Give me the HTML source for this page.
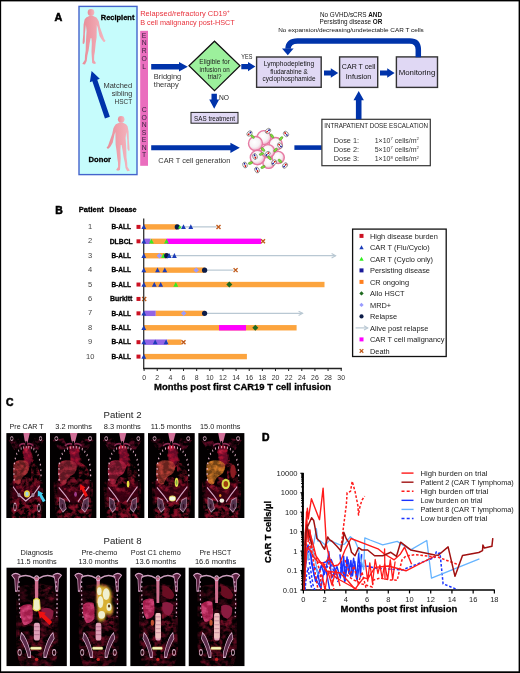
<!DOCTYPE html>
<html><head><meta charset="utf-8"><title>CAR19 T cell figure</title>
<style>html,body{margin:0;padding:0;background:#fff;}svg{display:block;}</style></head>
<body><svg width="520" height="673" viewBox="0 0 520 673" font-family="'Liberation Sans', Arial, sans-serif">
<defs>
<linearGradient id="skin" x1="0" y1="0" x2="1" y2="0"><stop offset="0" stop-color="#e88c98"/><stop offset="0.6" stop-color="#f0a6b0"/><stop offset="1" stop-color="#f4b6c0"/></linearGradient>
<radialGradient id="cellg" cx="0.42" cy="0.4" r="0.62"><stop offset="0" stop-color="#ffffff"/><stop offset="0.6" stop-color="#f6f2f4"/><stop offset="0.85" stop-color="#f2c4d6"/><stop offset="1" stop-color="#e888ac"/></radialGradient>
<filter id="blur05" x="-30%" y="-30%" width="160%" height="160%"><feGaussianBlur stdDeviation="0.7"/></filter>
<filter id="mot1" x="0" y="0" width="100%" height="100%" color-interpolation-filters="sRGB"><feTurbulence type="fractalNoise" baseFrequency="0.09 0.2" numOctaves="3" seed="1" result="n"/><feColorMatrix in="n" type="matrix" values="0 0 0 0 0  0 0 0 0 0  0 0 0 0 0  2.6 0 0 0 -0.95" result="m0"/><feGaussianBlur in="m0" stdDeviation="0.8 0.5" result="m"/><feComposite in="SourceGraphic" in2="m" operator="in"/></filter><filter id="mot2" x="0" y="0" width="100%" height="100%" color-interpolation-filters="sRGB"><feTurbulence type="fractalNoise" baseFrequency="0.09 0.2" numOctaves="3" seed="2" result="n"/><feColorMatrix in="n" type="matrix" values="0 0 0 0 0  0 0 0 0 0  0 0 0 0 0  2.6 0 0 0 -0.95" result="m0"/><feGaussianBlur in="m0" stdDeviation="0.8 0.5" result="m"/><feComposite in="SourceGraphic" in2="m" operator="in"/></filter><filter id="mot3" x="0" y="0" width="100%" height="100%" color-interpolation-filters="sRGB"><feTurbulence type="fractalNoise" baseFrequency="0.09 0.2" numOctaves="3" seed="3" result="n"/><feColorMatrix in="n" type="matrix" values="0 0 0 0 0  0 0 0 0 0  0 0 0 0 0  2.6 0 0 0 -0.95" result="m0"/><feGaussianBlur in="m0" stdDeviation="0.8 0.5" result="m"/><feComposite in="SourceGraphic" in2="m" operator="in"/></filter><filter id="mot4" x="0" y="0" width="100%" height="100%" color-interpolation-filters="sRGB"><feTurbulence type="fractalNoise" baseFrequency="0.09 0.2" numOctaves="3" seed="4" result="n"/><feColorMatrix in="n" type="matrix" values="0 0 0 0 0  0 0 0 0 0  0 0 0 0 0  2.6 0 0 0 -0.95" result="m0"/><feGaussianBlur in="m0" stdDeviation="0.8 0.5" result="m"/><feComposite in="SourceGraphic" in2="m" operator="in"/></filter><filter id="mot5" x="0" y="0" width="100%" height="100%" color-interpolation-filters="sRGB"><feTurbulence type="fractalNoise" baseFrequency="0.09 0.2" numOctaves="3" seed="5" result="n"/><feColorMatrix in="n" type="matrix" values="0 0 0 0 0  0 0 0 0 0  0 0 0 0 0  2.6 0 0 0 -0.95" result="m0"/><feGaussianBlur in="m0" stdDeviation="0.8 0.5" result="m"/><feComposite in="SourceGraphic" in2="m" operator="in"/></filter><filter id="mot6" x="0" y="0" width="100%" height="100%" color-interpolation-filters="sRGB"><feTurbulence type="fractalNoise" baseFrequency="0.09 0.2" numOctaves="3" seed="6" result="n"/><feColorMatrix in="n" type="matrix" values="0 0 0 0 0  0 0 0 0 0  0 0 0 0 0  2.6 0 0 0 -0.95" result="m0"/><feGaussianBlur in="m0" stdDeviation="0.8 0.5" result="m"/><feComposite in="SourceGraphic" in2="m" operator="in"/></filter><filter id="mot7" x="0" y="0" width="100%" height="100%" color-interpolation-filters="sRGB"><feTurbulence type="fractalNoise" baseFrequency="0.09 0.2" numOctaves="3" seed="7" result="n"/><feColorMatrix in="n" type="matrix" values="0 0 0 0 0  0 0 0 0 0  0 0 0 0 0  2.6 0 0 0 -0.95" result="m0"/><feGaussianBlur in="m0" stdDeviation="0.8 0.5" result="m"/><feComposite in="SourceGraphic" in2="m" operator="in"/></filter><filter id="mot8" x="0" y="0" width="100%" height="100%" color-interpolation-filters="sRGB"><feTurbulence type="fractalNoise" baseFrequency="0.09 0.2" numOctaves="3" seed="8" result="n"/><feColorMatrix in="n" type="matrix" values="0 0 0 0 0  0 0 0 0 0  0 0 0 0 0  2.6 0 0 0 -0.95" result="m0"/><feGaussianBlur in="m0" stdDeviation="0.8 0.5" result="m"/><feComposite in="SourceGraphic" in2="m" operator="in"/></filter><filter id="mot9" x="0" y="0" width="100%" height="100%" color-interpolation-filters="sRGB"><feTurbulence type="fractalNoise" baseFrequency="0.09 0.2" numOctaves="3" seed="9" result="n"/><feColorMatrix in="n" type="matrix" values="0 0 0 0 0  0 0 0 0 0  0 0 0 0 0  2.6 0 0 0 -0.95" result="m0"/><feGaussianBlur in="m0" stdDeviation="0.8 0.5" result="m"/><feComposite in="SourceGraphic" in2="m" operator="in"/></filter>
<filter id="blur1" x="-20%" y="-20%" width="140%" height="140%"><feGaussianBlur stdDeviation="1.6"/></filter>
<clipPath id="dclip"><rect x="303.6" y="470" width="195" height="120"/></clipPath>
</defs>
<rect x="0.00" y="0.00" width="520.00" height="673.00" fill="#fff"/>
<text x="54.4" y="20.5" font-size="10.8" font-weight="bold" fill="#000" stroke="#000" stroke-width="0.55">A</text>
<rect x="79.00" y="6.40" width="58.00" height="168.20" fill="#c6fcfc" stroke="#4464cc" stroke-width="1.4"/>
<polygon points="89.70,15.80 86.20,17.40 84.60,19.40 83.60,24.60 83.30,34.00 82.80,39.60 82.60,43.60 84.00,44.00 84.80,41.60 84.90,33.60 85.90,25.10 86.60,31.10 86.20,37.10 85.80,44.60 85.70,50.40 85.00,55.60 84.80,60.00 83.00,62.80 82.30,63.90 85.00,64.50 86.70,61.10 87.40,55.60 88.60,50.40 89.60,43.60 90.60,38.20 91.50,38.20 91.80,43.60 91.50,51.40 91.70,55.60 92.00,60.00 92.20,63.10 94.20,64.00 96.10,63.20 94.10,60.20 94.20,55.60 94.90,51.40 95.70,43.60 96.60,37.60 96.70,31.60 96.80,25.10 97.70,27.60 99.50,35.90 101.70,39.60 103.40,41.80 104.60,42.00 105.60,40.80 104.20,39.10 102.40,34.00 100.00,27.20 98.80,21.40 97.80,19.40 96.40,17.40 92.60,15.80" fill="url(#skin)"/>
<ellipse cx="91.00" cy="12.50" rx="3.30" ry="3.40" fill="url(#skin)"/>
<polygon points="122.50,122.60 126.00,124.20 127.60,126.20 128.60,131.40 128.90,140.80 129.40,146.40 129.60,150.40 128.20,150.80 127.40,148.40 127.30,140.40 126.30,131.90 125.60,137.90 126.00,143.90 126.40,151.40 126.50,157.20 127.20,162.40 127.40,166.80 129.20,169.60 129.90,170.70 127.20,171.30 125.50,167.90 124.80,162.40 123.60,157.20 122.60,150.40 121.60,145.00 120.70,145.00 120.40,150.40 120.70,158.20 120.50,162.40 120.20,166.80 120.00,169.90 118.00,170.80 116.10,170.00 118.10,167.00 118.00,162.40 117.30,158.20 116.50,150.40 115.60,144.40 115.50,138.40 115.40,131.90 114.50,134.40 112.70,142.70 110.50,146.40 108.80,148.60 107.60,148.80 106.60,147.60 108.00,145.90 109.80,140.80 112.20,134.00 113.40,128.20 114.40,126.20 115.80,124.20 119.60,122.60" fill="url(#skin)"/>
<ellipse cx="121.20" cy="119.30" rx="3.30" ry="3.40" fill="url(#skin)"/>
<text x="100.8" y="20" font-size="7.4" font-weight="bold" stroke="#000" stroke-width="0.28" fill="#000" textLength="33.6" lengthAdjust="spacingAndGlyphs">Recipient</text>
<text x="88.6" y="162" font-size="7.4" font-weight="bold" stroke="#000" stroke-width="0.28" fill="#000" textLength="22.4" lengthAdjust="spacingAndGlyphs">Donor</text>
<text x="132.2" y="87.7" font-size="7.4" text-anchor="end" fill="#333" textLength="28.8" lengthAdjust="spacingAndGlyphs">Matched</text>
<text x="132.2" y="96.05" font-size="7.4" text-anchor="end" fill="#333" textLength="20.5" lengthAdjust="spacingAndGlyphs">sibling</text>
<text x="132.2" y="104.4" font-size="7.4" text-anchor="end" fill="#333" textLength="17.6" lengthAdjust="spacingAndGlyphs">HSCT</text>
<polygon points="109.86,116.87 97.27,79.64 99.78,78.79 91.60,71.00 89.83,82.16 92.34,81.31 104.94,118.53" fill="#0033aa"/>
<text x="140.2" y="16.3" font-size="7.5" fill="#e8323c">Relapsed/refractory CD19<tspan font-size="4.5" dy="-3">+</tspan></text>
<text x="140.2" y="24.6" font-size="7.5" fill="#e8323c" textLength="94.5" lengthAdjust="spacingAndGlyphs">B cell malignancy post-HSCT</text>
<rect x="140.20" y="30.80" width="7.80" height="135.00" fill="#ea6ebe"/>
<text x="144.1" y="37.5" font-size="6.8" text-anchor="middle" fill="#3c2040">E</text>
<text x="144.1" y="45.25" font-size="6.8" text-anchor="middle" fill="#3c2040">N</text>
<text x="144.1" y="53.0" font-size="6.8" text-anchor="middle" fill="#3c2040">R</text>
<text x="144.1" y="60.75" font-size="6.8" text-anchor="middle" fill="#3c2040">O</text>
<text x="144.1" y="68.5" font-size="6.8" text-anchor="middle" fill="#3c2040">L</text>
<text x="144.1" y="112.1" font-size="6.8" text-anchor="middle" fill="#3c2040">C</text>
<text x="144.1" y="119.58" font-size="6.8" text-anchor="middle" fill="#3c2040">O</text>
<text x="144.1" y="127.06" font-size="6.8" text-anchor="middle" fill="#3c2040">N</text>
<text x="144.1" y="134.54" font-size="6.8" text-anchor="middle" fill="#3c2040">S</text>
<text x="144.1" y="142.01999999999998" font-size="6.8" text-anchor="middle" fill="#3c2040">E</text>
<text x="144.1" y="149.5" font-size="6.8" text-anchor="middle" fill="#3c2040">N</text>
<text x="144.1" y="156.98" font-size="6.8" text-anchor="middle" fill="#3c2040">T</text>
<polygon points="151.20,69.40 179.00,69.40 179.00,71.50 187.80,66.70 179.00,61.90 179.00,64.00 151.20,64.00" fill="#0033aa"/>
<text x="153.8" y="79.2" font-size="7.5" fill="#333" textLength="27.5" lengthAdjust="spacingAndGlyphs">Bridging</text>
<text x="153.8" y="87.4" font-size="7.5" fill="#333" textLength="25" lengthAdjust="spacingAndGlyphs">therapy</text>
<polygon points="189.00,65.70 214.50,41.20 240.00,65.70 214.50,90.60" fill="#9cf09c" stroke="#111" stroke-width="1.2"/>
<text x="214.6" y="64.4" font-size="6.9" text-anchor="middle" fill="#222" textLength="30.5" lengthAdjust="spacingAndGlyphs">Eligible for</text>
<text x="214.6" y="71.7" font-size="6.9" text-anchor="middle" fill="#222" textLength="30" lengthAdjust="spacingAndGlyphs">infusion on</text>
<text x="214.6" y="79.0" font-size="6.9" text-anchor="middle" fill="#222" textLength="13.8" lengthAdjust="spacingAndGlyphs">trial?</text>
<text x="241.3" y="58.8" font-size="6.4" fill="#222" textLength="11" lengthAdjust="spacingAndGlyphs">YES</text>
<polygon points="241.30,69.20 248.00,69.20 248.00,71.30 255.40,66.60 248.00,61.90 248.00,64.00 241.30,64.00" fill="#0033aa"/>
<polygon points="211.50,93.80 211.50,99.60 209.20,99.60 214.20,108.80 219.20,99.60 216.90,99.60 216.90,93.80" fill="#0033aa"/>
<text x="218.9" y="99.6" font-size="6.4" fill="#222" textLength="10" lengthAdjust="spacingAndGlyphs">NO</text>
<rect x="191.00" y="112.40" width="47.00" height="10.80" fill="#e0d8f4" stroke="#222" stroke-width="1.0"/>
<text x="214.5" y="120.6" font-size="6.6" text-anchor="middle" fill="#111" textLength="40.8" lengthAdjust="spacingAndGlyphs">SAS treatment</text>
<rect x="256.60" y="57.00" width="64.60" height="30.30" fill="#e0d8f4" stroke="#333" stroke-width="1.4"/>
<text x="289" y="66.2" font-size="6.7" text-anchor="middle" fill="#111" textLength="50.5" lengthAdjust="spacingAndGlyphs">Lymphodepleting</text>
<text x="289" y="73.8" font-size="6.7" text-anchor="middle" fill="#111" textLength="37.5" lengthAdjust="spacingAndGlyphs">fludarabine &amp;</text>
<text x="289" y="81.4" font-size="6.7" text-anchor="middle" fill="#111" textLength="53" lengthAdjust="spacingAndGlyphs">cyclophosphamide</text>
<polygon points="324.00,75.60 330.80,75.60 330.80,77.70 338.20,73.00 330.80,68.30 330.80,70.40 324.00,70.40" fill="#0033aa"/>
<rect x="339.60" y="56.90" width="38.10" height="30.50" fill="#e0d8f4" stroke="#333" stroke-width="1.4"/>
<text x="358.6" y="69.3" font-size="7.3" text-anchor="middle" fill="#111" textLength="33.5" lengthAdjust="spacingAndGlyphs">CAR T cell</text>
<text x="358.6" y="78.9" font-size="7.3" text-anchor="middle" fill="#111" textLength="25.5" lengthAdjust="spacingAndGlyphs">Infusion</text>
<polygon points="380.00,75.60 387.20,75.60 387.20,77.70 394.60,73.00 387.20,68.30 387.20,70.40 380.00,70.40" fill="#0033aa"/>
<rect x="396.40" y="56.90" width="41.10" height="30.50" fill="#e0d8f4" stroke="#333" stroke-width="1.4"/>
<text x="417" y="74.8" font-size="7.3" text-anchor="middle" fill="#111" textLength="36.6" lengthAdjust="spacingAndGlyphs">Monitoring</text>
<path d="M418.3,57.2 V49.5 Q418.3,40.9 409.7,40.9 H297.5 Q288.2,40.9 288.0,48.8" fill="none" stroke="#0033aa" stroke-width="5.5"/>
<polygon points="282.00,48.60 293.60,48.60 287.80,55.20" fill="#0033aa"/>
<text x="351" y="16.6" font-size="6.35" text-anchor="middle" fill="#111">No GVHD/sCRS <tspan font-weight="bold">AND</tspan></text>
<text x="351" y="24.2" font-size="6.35" text-anchor="middle" fill="#111">Persisting disease <tspan font-weight="bold">OR</tspan></text>
<text x="351" y="31.8" font-size="6.0" text-anchor="middle" fill="#111" textLength="145.5" lengthAdjust="spacingAndGlyphs">No expansion/decreasing/undetectable CAR T cells</text>
<polygon points="151.20,150.30 230.40,150.30 230.40,152.90 239.80,147.80 230.40,142.70 230.40,145.30 151.20,145.30" fill="#0033aa"/>
<text x="158.3" y="163" font-size="7.0" fill="#333" textLength="72" lengthAdjust="spacingAndGlyphs">CAR T cell generation</text>
<circle cx="264" cy="137.6" r="7.0" fill="url(#cellg)" stroke="#e67aa2" stroke-width="1.4"/>
<circle cx="255.5" cy="143.5" r="7.0" fill="url(#cellg)" stroke="#e67aa2" stroke-width="1.4"/>
<circle cx="275.7" cy="144" r="6.5" fill="url(#cellg)" stroke="#e67aa2" stroke-width="1.4"/>
<circle cx="268.7" cy="162.5" r="5.9" fill="url(#cellg)" stroke="#e67aa2" stroke-width="1.4"/>
<circle cx="278.2" cy="157.5" r="6.1" fill="url(#cellg)" stroke="#e67aa2" stroke-width="1.4"/>
<circle cx="257.5" cy="157.5" r="7.2" fill="url(#cellg)" stroke="#e67aa2" stroke-width="1.4"/>
<circle cx="268" cy="151.2" r="6.6" fill="url(#cellg)" stroke="#e67aa2" stroke-width="1.4"/>
<g transform="translate(252.5,136.5) rotate(-135.0)"><ellipse cx="0" cy="0" rx="2.4" ry="1.2" fill="#7ee03a" stroke="#3a7a10" stroke-width="0.4"/></g>
<g transform="translate(249.5,133.5) rotate(-45.0)"><ellipse cx="0" cy="0" rx="3.0" ry="2.2" fill="#fff" stroke="#222" stroke-width="0.45"/><ellipse cx="-1.2" cy="0" rx="1.1" ry="0.8" fill="#cc1010"/><ellipse cx="1.3" cy="0" rx="1.1" ry="0.8" fill="#1a1a9a"/></g>
<g transform="translate(272,136) rotate(-128.7)"><ellipse cx="0" cy="0" rx="2.4" ry="1.2" fill="#7ee03a" stroke="#3a7a10" stroke-width="0.4"/></g>
<g transform="translate(268,131) rotate(-38.7)"><ellipse cx="0" cy="0" rx="3.0" ry="2.2" fill="#fff" stroke="#222" stroke-width="0.45"/><ellipse cx="-1.2" cy="0" rx="1.1" ry="0.8" fill="#cc1010"/><ellipse cx="1.3" cy="0" rx="1.1" ry="0.8" fill="#1a1a9a"/></g>
<g transform="translate(281,138.5) rotate(-42.0)"><ellipse cx="0" cy="0" rx="2.4" ry="1.2" fill="#7ee03a" stroke="#3a7a10" stroke-width="0.4"/></g>
<g transform="translate(286,134) rotate(48.0)"><ellipse cx="0" cy="0" rx="3.0" ry="2.2" fill="#fff" stroke="#222" stroke-width="0.45"/><ellipse cx="-1.2" cy="0" rx="1.1" ry="0.8" fill="#cc1010"/><ellipse cx="1.3" cy="0" rx="1.1" ry="0.8" fill="#1a1a9a"/></g>
<g transform="translate(275.5,150) rotate(-45.0)"><ellipse cx="0" cy="0" rx="2.4" ry="1.2" fill="#7ee03a" stroke="#3a7a10" stroke-width="0.4"/></g>
<g transform="translate(280,145.5) rotate(45.0)"><ellipse cx="0" cy="0" rx="3.0" ry="2.2" fill="#fff" stroke="#222" stroke-width="0.45"/><ellipse cx="-1.2" cy="0" rx="1.1" ry="0.8" fill="#cc1010"/><ellipse cx="1.3" cy="0" rx="1.1" ry="0.8" fill="#1a1a9a"/></g>
<g transform="translate(263,149.5) rotate(45.0)"><ellipse cx="0" cy="0" rx="2.4" ry="1.2" fill="#7ee03a" stroke="#3a7a10" stroke-width="0.4"/></g>
<g transform="translate(267.5,154) rotate(135.0)"><ellipse cx="0" cy="0" rx="3.0" ry="2.2" fill="#fff" stroke="#222" stroke-width="0.45"/><ellipse cx="-1.2" cy="0" rx="1.1" ry="0.8" fill="#cc1010"/><ellipse cx="1.3" cy="0" rx="1.1" ry="0.8" fill="#1a1a9a"/></g>
<g transform="translate(261.5,154) rotate(159.0)"><ellipse cx="0" cy="0" rx="2.4" ry="1.2" fill="#7ee03a" stroke="#3a7a10" stroke-width="0.4"/></g>
<g transform="translate(255,156.5) rotate(249.0)"><ellipse cx="0" cy="0" rx="3.0" ry="2.2" fill="#fff" stroke="#222" stroke-width="0.45"/><ellipse cx="-1.2" cy="0" rx="1.1" ry="0.8" fill="#cc1010"/><ellipse cx="1.3" cy="0" rx="1.1" ry="0.8" fill="#1a1a9a"/></g>
<g transform="translate(250.5,163) rotate(160.0)"><ellipse cx="0" cy="0" rx="2.4" ry="1.2" fill="#7ee03a" stroke="#3a7a10" stroke-width="0.4"/></g>
<g transform="translate(245,165) rotate(250.0)"><ellipse cx="0" cy="0" rx="3.0" ry="2.2" fill="#fff" stroke="#222" stroke-width="0.45"/><ellipse cx="-1.2" cy="0" rx="1.1" ry="0.8" fill="#cc1010"/><ellipse cx="1.3" cy="0" rx="1.1" ry="0.8" fill="#1a1a9a"/></g>
<g transform="translate(263,167) rotate(153.4)"><ellipse cx="0" cy="0" rx="2.4" ry="1.2" fill="#7ee03a" stroke="#3a7a10" stroke-width="0.4"/></g>
<g transform="translate(257,170) rotate(243.4)"><ellipse cx="0" cy="0" rx="3.0" ry="2.2" fill="#fff" stroke="#222" stroke-width="0.45"/><ellipse cx="-1.2" cy="0" rx="1.1" ry="0.8" fill="#cc1010"/><ellipse cx="1.3" cy="0" rx="1.1" ry="0.8" fill="#1a1a9a"/></g>
<g transform="translate(280,161) rotate(42.0)"><ellipse cx="0" cy="0" rx="2.4" ry="1.2" fill="#7ee03a" stroke="#3a7a10" stroke-width="0.4"/></g>
<g transform="translate(285,165.5) rotate(132.0)"><ellipse cx="0" cy="0" rx="3.0" ry="2.2" fill="#fff" stroke="#222" stroke-width="0.45"/><ellipse cx="-1.2" cy="0" rx="1.1" ry="0.8" fill="#cc1010"/><ellipse cx="1.3" cy="0" rx="1.1" ry="0.8" fill="#1a1a9a"/></g>
<g transform="translate(269.5,158) rotate(45.0)"><ellipse cx="0" cy="0" rx="2.4" ry="1.2" fill="#7ee03a" stroke="#3a7a10" stroke-width="0.4"/></g>
<g transform="translate(274,162.5) rotate(135.0)"><ellipse cx="0" cy="0" rx="3.0" ry="2.2" fill="#fff" stroke="#222" stroke-width="0.45"/><ellipse cx="-1.2" cy="0" rx="1.1" ry="0.8" fill="#cc1010"/><ellipse cx="1.3" cy="0" rx="1.1" ry="0.8" fill="#1a1a9a"/></g>
<rect x="294.40" y="145.30" width="27.40" height="4.60" fill="#0033aa"/>
<rect x="321.90" y="119.30" width="108.40" height="46.40" fill="#fff" stroke="#333" stroke-width="1.2"/>
<polygon points="361.50,119.30 361.50,100.30 363.90,100.30 358.70,90.90 353.50,100.30 355.90,100.30 355.90,119.30" fill="#0033aa"/>
<text x="324.2" y="128.2" font-size="6.4" fill="#222" textLength="103.8" lengthAdjust="spacingAndGlyphs">INTRAPATIENT DOSE ESCALATION</text>
<text x="333.8" y="142.8" font-size="7.0" fill="#333" textLength="25.3" lengthAdjust="spacingAndGlyphs">Dose 1:</text>
<text x="374.7" y="142.8" font-size="7.0" fill="#333">1×10<tspan font-size="4.2" dy="-2.8">7</tspan><tspan dy="2.8"> cells/m</tspan><tspan font-size="4.2" dy="-2.8">2</tspan></text>
<text x="333.8" y="152.10000000000002" font-size="7.0" fill="#333" textLength="25.3" lengthAdjust="spacingAndGlyphs">Dose 2:</text>
<text x="374.7" y="152.10000000000002" font-size="7.0" fill="#333">5×10<tspan font-size="4.2" dy="-2.8">7</tspan><tspan dy="2.8"> cells/m</tspan><tspan font-size="4.2" dy="-2.8">2</tspan></text>
<text x="333.8" y="161.4" font-size="7.0" fill="#333" textLength="25.3" lengthAdjust="spacingAndGlyphs">Dose 3:</text>
<text x="374.7" y="161.4" font-size="7.0" fill="#333">1×10<tspan font-size="4.2" dy="-2.8">8</tspan><tspan dy="2.8"> cells/m</tspan><tspan font-size="4.2" dy="-2.8">2</tspan></text>
<text x="55.3" y="214.3" font-size="10.4" font-weight="bold" fill="#000" stroke="#000" stroke-width="0.55">B</text>
<text x="78.8" y="211.6" font-size="7.0" font-weight="bold" stroke="#000" stroke-width="0.28" fill="#000" textLength="25" lengthAdjust="spacingAndGlyphs">Patient</text>
<text x="109.2" y="211.6" font-size="7.0" font-weight="bold" stroke="#000" stroke-width="0.28" fill="#000" textLength="27.3" lengthAdjust="spacingAndGlyphs">Disease</text>
<text x="90.2" y="229.0" font-size="7.5" text-anchor="middle" fill="#444">1</text>
<text x="121.2" y="229.20000000000002" font-size="7.0" text-anchor="middle" font-weight="bold" stroke="#000" stroke-width="0.28" fill="#000" textLength="19.6" lengthAdjust="spacingAndGlyphs">B-ALL</text>
<text x="90.2" y="243.41" font-size="7.5" text-anchor="middle" fill="#444">2</text>
<text x="121.2" y="243.61" font-size="7.0" text-anchor="middle" font-weight="bold" stroke="#000" stroke-width="0.28" fill="#000" textLength="23" lengthAdjust="spacingAndGlyphs">DLBCL</text>
<text x="90.2" y="257.82" font-size="7.5" text-anchor="middle" fill="#444">3</text>
<text x="121.2" y="258.02" font-size="7.0" text-anchor="middle" font-weight="bold" stroke="#000" stroke-width="0.28" fill="#000" textLength="19.6" lengthAdjust="spacingAndGlyphs">B-ALL</text>
<text x="90.2" y="272.23" font-size="7.5" text-anchor="middle" fill="#444">4</text>
<text x="121.2" y="272.43" font-size="7.0" text-anchor="middle" font-weight="bold" stroke="#000" stroke-width="0.28" fill="#000" textLength="19.6" lengthAdjust="spacingAndGlyphs">B-ALL</text>
<text x="90.2" y="286.64000000000004" font-size="7.5" text-anchor="middle" fill="#444">5</text>
<text x="121.2" y="286.84000000000003" font-size="7.0" text-anchor="middle" font-weight="bold" stroke="#000" stroke-width="0.28" fill="#000" textLength="19.6" lengthAdjust="spacingAndGlyphs">B-ALL</text>
<text x="90.2" y="301.05" font-size="7.5" text-anchor="middle" fill="#444">6</text>
<text x="121.2" y="301.25" font-size="7.0" text-anchor="middle" font-weight="bold" stroke="#000" stroke-width="0.28" fill="#000" textLength="22.5" lengthAdjust="spacingAndGlyphs">Burkitt</text>
<text x="90.2" y="315.46000000000004" font-size="7.5" text-anchor="middle" fill="#444">7</text>
<text x="121.2" y="315.66" font-size="7.0" text-anchor="middle" font-weight="bold" stroke="#000" stroke-width="0.28" fill="#000" textLength="19.6" lengthAdjust="spacingAndGlyphs">B-ALL</text>
<text x="90.2" y="329.87" font-size="7.5" text-anchor="middle" fill="#444">8</text>
<text x="121.2" y="330.07" font-size="7.0" text-anchor="middle" font-weight="bold" stroke="#000" stroke-width="0.28" fill="#000" textLength="19.6" lengthAdjust="spacingAndGlyphs">B-ALL</text>
<text x="90.2" y="344.28000000000003" font-size="7.5" text-anchor="middle" fill="#444">9</text>
<text x="121.2" y="344.48" font-size="7.0" text-anchor="middle" font-weight="bold" stroke="#000" stroke-width="0.28" fill="#000" textLength="19.6" lengthAdjust="spacingAndGlyphs">B-ALL</text>
<text x="90.2" y="358.69000000000005" font-size="7.5" text-anchor="middle" fill="#444">10</text>
<text x="121.2" y="358.89000000000004" font-size="7.0" text-anchor="middle" font-weight="bold" stroke="#000" stroke-width="0.28" fill="#000" textLength="19.6" lengthAdjust="spacingAndGlyphs">B-ALL</text>
<rect x="136.50" y="224.90" width="4.00" height="4.00" fill="#cc1122"/>
<rect x="136.50" y="239.31" width="4.00" height="4.00" fill="#cc1122"/>
<rect x="136.50" y="282.54" width="4.00" height="4.00" fill="#cc1122"/>
<rect x="136.50" y="296.95" width="4.00" height="4.00" fill="#cc1122"/>
<rect x="136.50" y="311.36" width="4.00" height="4.00" fill="#cc1122"/>
<rect x="136.50" y="340.18" width="4.00" height="4.00" fill="#cc1122"/>
<rect x="136.50" y="354.59" width="4.00" height="4.00" fill="#cc1122"/>
<line x1="178" y1="226.9" x2="216.5" y2="226.9" stroke="#b9c8d3" stroke-width="1.2"/>
<rect x="144.00" y="224.20" width="33.30" height="5.40" fill="#fca43e"/>
<circle cx="177.3" cy="226.9" r="2.6" fill="#0c1c48"/>
<polygon points="178.00,228.52 181.60,228.52 179.80,224.92" fill="#33ee22"/>
<polygon points="181.10,229.06 185.90,229.06 183.50,224.26" fill="#1c3db8"/>
<polygon points="188.40,229.06 193.20,229.06 190.80,224.26" fill="#1c3db8"/>
<path d="M216.5,224.9L220.5,228.9M216.5,228.9L220.5,224.9" stroke="#c05a1a" stroke-width="1.4"/>
<rect x="144.00" y="238.61" width="6.60" height="5.40" fill="#9265e6"/>
<rect x="150.60" y="238.61" width="15.80" height="5.40" fill="#fca43e"/>
<rect x="166.40" y="238.61" width="94.60" height="5.40" fill="#ff00ff"/>
<polygon points="149.00,243.47 153.80,243.47 151.40,238.67" fill="#33ee22"/>
<polygon points="164.10,243.47 168.90,243.47 166.50,238.67" fill="#33ee22"/>
<path d="M261.0,239.31L265.0,243.31M261.0,243.31L265.0,239.31" stroke="#c05a1a" stroke-width="1.4"/>
<line x1="166" y1="255.72" x2="335.6" y2="255.72" stroke="#b9c8d3" stroke-width="1.2"/>
<path d="M331.6,253.52L335.6,255.72L331.6,257.92" fill="none" stroke="#b9c8d3" stroke-width="1.1"/>
<rect x="144.00" y="253.02" width="22.00" height="5.40" fill="#fca43e"/>
<polygon points="156.60,255.72 159.30,253.02 162.00,255.72 159.30,258.42" fill="#9a9cff"/>
<polygon points="161.20,257.88 166.00,257.88 163.60,253.08" fill="#33ee22"/>
<circle cx="166.7" cy="255.72" r="2.6" fill="#0c1c48"/>
<polygon points="166.80,257.88 171.60,257.88 169.20,253.08" fill="#1c3db8"/>
<polygon points="172.00,257.88 176.80,257.88 174.40,253.08" fill="#1c3db8"/>
<line x1="204" y1="270.13" x2="233.5" y2="270.13" stroke="#b9c8d3" stroke-width="1.2"/>
<rect x="144.00" y="267.43" width="60.60" height="5.40" fill="#fca43e"/>
<polygon points="155.10,272.29 159.90,272.29 157.50,267.49" fill="#1c3db8"/>
<polygon points="162.40,272.29 167.20,272.29 164.80,267.49" fill="#1c3db8"/>
<polygon points="193.50,270.13 196.20,267.43 198.90,270.13 196.20,272.83" fill="#9a9cff"/>
<circle cx="204.6" cy="270.13" r="2.6" fill="#0c1c48"/>
<path d="M233.6,268.13L237.6,272.13M233.6,272.13L237.6,268.13" stroke="#c05a1a" stroke-width="1.4"/>
<rect x="144.00" y="281.84" width="180.50" height="5.40" fill="#fca43e"/>
<polygon points="151.90,286.70 156.70,286.70 154.30,281.90" fill="#1c3db8"/>
<polygon points="158.30,286.70 163.10,286.70 160.70,281.90" fill="#1c3db8"/>
<polygon points="173.40,286.70 178.20,286.70 175.80,281.90" fill="#33ee22"/>
<polygon points="226.30,284.54 229.30,281.54 232.30,284.54 229.30,287.54" fill="#1f6a1f"/>
<path d="M142.2,296.95L146.2,300.95M142.2,300.95L146.2,296.95" stroke="#c05a1a" stroke-width="1.4"/>
<line x1="204" y1="313.36" x2="302.6" y2="313.36" stroke="#b9c8d3" stroke-width="1.2"/>
<path d="M298.6,311.16L302.6,313.36L298.6,315.56" fill="none" stroke="#b9c8d3" stroke-width="1.1"/>
<rect x="144.00" y="310.66" width="11.80" height="5.40" fill="#9265e6"/>
<rect x="155.80" y="310.66" width="48.80" height="5.40" fill="#fca43e"/>
<polygon points="181.00,313.36 183.70,310.66 186.40,313.36 183.70,316.06" fill="#9a9cff"/>
<circle cx="204.6" cy="313.36" r="2.6" fill="#0c1c48"/>
<rect x="144.00" y="325.07" width="152.60" height="5.40" fill="#fca43e"/>
<rect x="219.00" y="325.07" width="27.00" height="5.40" fill="#ff00ff"/>
<polygon points="252.30,327.77 255.30,324.77 258.30,327.77 255.30,330.77" fill="#1f6a1f"/>
<rect x="144.00" y="339.48" width="23.30" height="5.40" fill="#9265e6"/>
<rect x="167.30" y="339.48" width="14.10" height="5.40" fill="#fca43e"/>
<polygon points="152.80,344.34 157.60,344.34 155.20,339.54" fill="#1c3db8"/>
<polygon points="163.70,344.34 168.50,344.34 166.10,339.54" fill="#1c3db8"/>
<path d="M181.5,340.18L185.5,344.18M181.5,344.18L185.5,340.18" stroke="#c05a1a" stroke-width="1.4"/>
<rect x="144.00" y="353.89" width="102.90" height="5.40" fill="#fca43e"/>
<line x1="143.7" y1="218.6" x2="143.7" y2="369" stroke="#333" stroke-width="1.3"/>
<polygon points="141.40,229.06 146.20,229.06 143.80,224.26" fill="#1c3db8"/>
<polygon points="141.40,243.47 146.20,243.47 143.80,238.67" fill="#1c3db8"/>
<polygon points="141.40,257.88 146.20,257.88 143.80,253.08" fill="#1c3db8"/>
<polygon points="141.40,272.29 146.20,272.29 143.80,267.49" fill="#1c3db8"/>
<polygon points="141.40,286.70 146.20,286.70 143.80,281.90" fill="#1c3db8"/>
<polygon points="141.40,315.52 146.20,315.52 143.80,310.72" fill="#1c3db8"/>
<polygon points="141.40,329.93 146.20,329.93 143.80,325.13" fill="#1c3db8"/>
<polygon points="141.40,344.34 146.20,344.34 143.80,339.54" fill="#1c3db8"/>
<polygon points="141.40,358.75 146.20,358.75 143.80,353.95" fill="#1c3db8"/>
<line x1="143.0" y1="368.5" x2="341.9" y2="368.5" stroke="#222" stroke-width="1.4"/>
<line x1="144.10" y1="368.5" x2="144.10" y2="371" stroke="#222" stroke-width="1"/>
<text x="144.1" y="379.6" font-size="6.9" text-anchor="middle" fill="#333">0</text>
<line x1="157.24" y1="368.5" x2="157.24" y2="371" stroke="#222" stroke-width="1"/>
<text x="157.24" y="379.6" font-size="6.9" text-anchor="middle" fill="#333">2</text>
<line x1="170.38" y1="368.5" x2="170.38" y2="371" stroke="#222" stroke-width="1"/>
<text x="170.38" y="379.6" font-size="6.9" text-anchor="middle" fill="#333">4</text>
<line x1="183.52" y1="368.5" x2="183.52" y2="371" stroke="#222" stroke-width="1"/>
<text x="183.52" y="379.6" font-size="6.9" text-anchor="middle" fill="#333">6</text>
<line x1="196.66" y1="368.5" x2="196.66" y2="371" stroke="#222" stroke-width="1"/>
<text x="196.66" y="379.6" font-size="6.9" text-anchor="middle" fill="#333">8</text>
<line x1="209.80" y1="368.5" x2="209.80" y2="371" stroke="#222" stroke-width="1"/>
<text x="209.8" y="379.6" font-size="6.9" text-anchor="middle" fill="#333">10</text>
<line x1="222.94" y1="368.5" x2="222.94" y2="371" stroke="#222" stroke-width="1"/>
<text x="222.94" y="379.6" font-size="6.9" text-anchor="middle" fill="#333">12</text>
<line x1="236.08" y1="368.5" x2="236.08" y2="371" stroke="#222" stroke-width="1"/>
<text x="236.08" y="379.6" font-size="6.9" text-anchor="middle" fill="#333">14</text>
<line x1="249.22" y1="368.5" x2="249.22" y2="371" stroke="#222" stroke-width="1"/>
<text x="249.22" y="379.6" font-size="6.9" text-anchor="middle" fill="#333">16</text>
<line x1="262.36" y1="368.5" x2="262.36" y2="371" stroke="#222" stroke-width="1"/>
<text x="262.36" y="379.6" font-size="6.9" text-anchor="middle" fill="#333">18</text>
<line x1="275.50" y1="368.5" x2="275.50" y2="371" stroke="#222" stroke-width="1"/>
<text x="275.5" y="379.6" font-size="6.9" text-anchor="middle" fill="#333">20</text>
<line x1="288.64" y1="368.5" x2="288.64" y2="371" stroke="#222" stroke-width="1"/>
<text x="288.64" y="379.6" font-size="6.9" text-anchor="middle" fill="#333">22</text>
<line x1="301.78" y1="368.5" x2="301.78" y2="371" stroke="#222" stroke-width="1"/>
<text x="301.78" y="379.6" font-size="6.9" text-anchor="middle" fill="#333">24</text>
<line x1="314.92" y1="368.5" x2="314.92" y2="371" stroke="#222" stroke-width="1"/>
<text x="314.92" y="379.6" font-size="6.9" text-anchor="middle" fill="#333">26</text>
<line x1="328.06" y1="368.5" x2="328.06" y2="371" stroke="#222" stroke-width="1"/>
<text x="328.06" y="379.6" font-size="6.9" text-anchor="middle" fill="#333">28</text>
<line x1="341.20" y1="368.5" x2="341.20" y2="371" stroke="#222" stroke-width="1"/>
<text x="341.2" y="379.6" font-size="6.9" text-anchor="middle" fill="#333">30</text>
<text x="154" y="389.8" font-size="9.0" font-weight="bold" stroke="#000" stroke-width="0.28" fill="#000" textLength="177" lengthAdjust="spacingAndGlyphs">Months post first CAR19 T cell infusion</text>
<rect x="352.60" y="229.10" width="93.60" height="127.40" fill="#fff" stroke="#111" stroke-width="1.3"/>
<rect x="359.50" y="233.90" width="4.00" height="4.00" fill="#cc1122"/>
<text x="370" y="238.5" font-size="7.4" fill="#222">High disease burden</text>
<polygon points="359.30,249.20 363.70,249.20 361.50,245.20" fill="#1c3db8"/>
<text x="370" y="250.0" font-size="7.4" fill="#222">CAR T (Flu/Cyclo)</text>
<polygon points="359.30,260.70 363.70,260.70 361.50,256.70" fill="#33ee22"/>
<text x="370" y="261.5" font-size="7.4" fill="#222">CAR T (Cyclo only)</text>
<rect x="359.50" y="268.40" width="4.00" height="4.00" fill="#1a1a99"/>
<text x="370" y="273.0" font-size="7.4" fill="#222">Persisting disease</text>
<rect x="359.50" y="279.90" width="4.00" height="4.00" fill="#ff7f1e"/>
<text x="370" y="284.5" font-size="7.4" fill="#222">CR ongoing</text>
<polygon points="359.30,293.40 361.50,291.20 363.70,293.40 361.50,295.60" fill="#1f6a1f"/>
<text x="370" y="296.0" font-size="7.4" fill="#222">Allo HSCT</text>
<polygon points="359.30,304.90 361.50,302.70 363.70,304.90 361.50,307.10" fill="#9a9cff"/>
<text x="370" y="307.5" font-size="7.4" fill="#222">MRD+</text>
<circle cx="361.5" cy="316.4" r="2.1" fill="#0c1c48"/>
<text x="370" y="319.0" font-size="7.4" fill="#222">Relapse</text>
<line x1="355.6" y1="327.9" x2="367.6" y2="327.9" stroke="#b9c8d3" stroke-width="1.2"/><path d="M364,325.7L367.8,327.9L364,330.09999999999997" fill="none" stroke="#b9c8d3" stroke-width="1.1"/>
<text x="370" y="330.5" font-size="7.4" fill="#222">Alive post relapse</text>
<rect x="359.50" y="337.40" width="4.00" height="4.00" fill="#ff00ff"/>
<text x="370" y="342.0" font-size="7.4" fill="#222">CAR T cell malignancy</text>
<path d="M359.7,349.09999999999997L363.3,352.7M359.7,352.7L363.3,349.09999999999997" stroke="#c05a1a" stroke-width="1.3"/>
<text x="370" y="353.5" font-size="7.4" fill="#222">Death</text>
<text x="6.0" y="406.2" font-size="10.4" font-weight="bold" fill="#000" stroke="#000" stroke-width="0.55">C</text>
<text x="103.5" y="417.6" font-size="9.0" fill="#222" textLength="38" lengthAdjust="spacingAndGlyphs">Patient 2</text>
<text x="26.6" y="429.4" font-size="7.6" text-anchor="middle" fill="#222" textLength="34" lengthAdjust="spacingAndGlyphs">Pre CAR T</text>
<text x="73.6" y="429.4" font-size="7.6" text-anchor="middle" fill="#222" textLength="36.5" lengthAdjust="spacingAndGlyphs">3.2 months</text>
<text x="122.3" y="429.4" font-size="7.6" text-anchor="middle" fill="#222" textLength="37" lengthAdjust="spacingAndGlyphs">8.3 months</text>
<text x="171.1" y="429.4" font-size="7.6" text-anchor="middle" fill="#222" textLength="40.8" lengthAdjust="spacingAndGlyphs">11.5 months</text>
<text x="220.2" y="429.4" font-size="7.6" text-anchor="middle" fill="#222" textLength="40.4" lengthAdjust="spacingAndGlyphs">15.0 months</text>
<svg x="6.2" y="433.1" width="39.95" height="84.89999999999998" viewBox="0 0 100 100" preserveAspectRatio="none">
<rect width="100" height="100" fill="#030001"/>
<g filter="url(#mot1)"><path d="M8,58 Q8,80 14,100 L88,100 Q94,80 92,58 Q70,52 50,54 Q30,52 8,58Z" fill="#4a0818"/><path d="M6,8 L30,6 L40,18 L20,20Z M94,8 L70,6 L60,18 L80,20Z" fill="#5a0a24"/></g>
<path d="M42,17 Q50,13 60,17 L65,31 Q60,40 50,40 L44,30Z" fill="#801030" opacity="0.8" filter="url(#blur1)"/>
<path d="M16,56 Q30,62 50,64 Q70,60 86,56 L86,80 Q70,76 50,84 Q30,76 16,80Z" fill="#4a0614" opacity="0.7" filter="url(#blur1)"/>
<g filter="url(#mot1)"><path d="M40,16 Q50,12 62,16 L68,32 Q62,42 50,42 L42,30Z" fill="#a81030"/><path d="M44,14 L56,14 L54,24 L46,24Z" fill="#c02040"/></g>
<g filter="url(#mot1)"><path d="M18,48 Q32,58 48,62 L46,70 Q28,68 18,60Z" fill="#9a1630"/><path d="M62,34 Q82,36 86,52 L84,66 Q70,64 62,54Z" fill="#8a1228"/><path d="M40,52 Q56,50 70,58 L66,72 Q50,70 40,64Z" fill="#7a1026"/></g>
<g filter="url(#mot1)"><path d="M14,76 Q30,74 50,82 Q70,74 88,76 L86,100 L16,100Z" fill="#8a1028"/></g>
<path d="M43,0 L59,0 L55,8 L52,13 L49,13 L46,8Z" fill="#d07098" filter="url(#blur05)"/>
<path d="M32,15 Q40,11 48,13 M52,13 Q60,11 68,15" fill="none" stroke="#8a2a52" stroke-width="2" filter="url(#blur05)"/>
<ellipse cx="50" cy="12" rx="2.2" ry="3" fill="#050002"/>
<path d="M18,36 Q30,30 48,33 Q58,35 58,40 Q56,48 46,50 Q38,52 34,60 Q26,62 20,56 Q16,46 18,36Z" fill="#a83036" opacity="0.55" filter="url(#blur05)"/>
<g filter="url(#mot1)"><path d="M18,36 Q30,30 48,33 Q58,35 58,40 Q56,48 46,50 Q38,52 34,60 Q26,62 20,56 Q16,46 18,36Z" fill="#a83036"/></g>
<path d="M20,56 Q16,24 38,18 Q52,15 66,18 Q89,24 87,56" fill="none" stroke="#e4b0c8" stroke-width="2.8" stroke-dasharray="1.8 4.6"/>
<ellipse cx="14" cy="6.5" rx="3.4" ry="2.2" fill="none" stroke="#d8a8c0" stroke-width="1.3"/>
<ellipse cx="86" cy="6.5" rx="3.4" ry="2.2" fill="none" stroke="#d8a8c0" stroke-width="1.3"/>
<path d="M17,63 L32,73 L49,80 L67,73 L84,62" fill="none" stroke="#d8a8c8" stroke-width="1.8" stroke-linejoin="round"/>
<ellipse cx="32" cy="73" rx="4" ry="2.5" fill="#a08098" filter="url(#blur05)"/><ellipse cx="67" cy="73" rx="4" ry="2.5" fill="#a08098" filter="url(#blur05)"/>
<ellipse cx="22" cy="87" rx="3.2" ry="4.4" fill="none" stroke="#d0a0bc" stroke-width="1.5"/>
<ellipse cx="82" cy="88" rx="3.2" ry="4.4" fill="none" stroke="#d0a0bc" stroke-width="1.5"/>
<ellipse cx="52" cy="71.6" rx="7.5" ry="4.2" fill="#e8d040" filter="url(#blur05)"/>
<ellipse cx="52" cy="71.6" rx="4" ry="2.4" fill="#a0d8e8" filter="url(#blur05)"/>
</svg>
<polygon points="45.50,500.75 41.80,494.35 43.27,493.50 37.90,490.60 37.73,496.70 39.20,495.85 42.90,502.25" fill="#44ccee"/>
<svg x="49.85" y="433.1" width="46.75" height="84.89999999999998" viewBox="0 0 100 100" preserveAspectRatio="none">
<rect width="100" height="100" fill="#030001"/>
<g filter="url(#mot2)"><path d="M8,58 Q8,80 14,100 L88,100 Q94,80 92,58 Q70,52 50,54 Q30,52 8,58Z" fill="#4a0818"/><path d="M6,8 L30,6 L40,18 L20,20Z M94,8 L70,6 L60,18 L80,20Z" fill="#5a0a24"/></g>
<path d="M42,17 Q50,13 60,17 L65,31 Q60,40 50,40 L44,30Z" fill="#801030" opacity="0.8" filter="url(#blur1)"/>
<path d="M16,56 Q30,62 50,64 Q70,60 86,56 L86,80 Q70,76 50,84 Q30,76 16,80Z" fill="#4a0614" opacity="0.7" filter="url(#blur1)"/>
<g filter="url(#mot2)"><path d="M40,16 Q50,12 62,16 L68,32 Q62,42 50,42 L42,30Z" fill="#a81030"/><path d="M44,14 L56,14 L54,24 L46,24Z" fill="#c02040"/></g>
<g filter="url(#mot2)"><path d="M18,48 Q32,58 48,62 L46,70 Q28,68 18,60Z" fill="#9a1630"/><path d="M62,34 Q82,36 86,52 L84,66 Q70,64 62,54Z" fill="#8a1228"/><path d="M40,52 Q56,50 70,58 L66,72 Q50,70 40,64Z" fill="#7a1026"/></g>
<g filter="url(#mot2)"><path d="M14,76 Q30,74 50,82 Q70,74 88,76 L86,100 L16,100Z" fill="#8a1028"/></g>
<path d="M43,0 L59,0 L55,8 L52,13 L49,13 L46,8Z" fill="#d07098" filter="url(#blur05)"/>
<path d="M32,15 Q40,11 48,13 M52,13 Q60,11 68,15" fill="none" stroke="#8a2a52" stroke-width="2" filter="url(#blur05)"/>
<ellipse cx="50" cy="12" rx="2.2" ry="3" fill="#050002"/>
<path d="M18,36 Q30,30 48,33 Q58,35 58,40 Q56,48 46,50 Q38,52 34,60 Q26,62 20,56 Q16,46 18,36Z" fill="#a82a3c" opacity="0.55" filter="url(#blur05)"/>
<g filter="url(#mot2)"><path d="M18,36 Q30,30 48,33 Q58,35 58,40 Q56,48 46,50 Q38,52 34,60 Q26,62 20,56 Q16,46 18,36Z" fill="#a82a3c"/></g>
<path d="M20,56 Q16,24 38,18 Q52,15 66,18 Q89,24 87,56" fill="none" stroke="#e4b0c8" stroke-width="2.8" stroke-dasharray="1.8 4.6"/>
<ellipse cx="14" cy="6.5" rx="3.4" ry="2.2" fill="none" stroke="#d8a8c0" stroke-width="1.3"/>
<ellipse cx="86" cy="6.5" rx="3.4" ry="2.2" fill="none" stroke="#d8a8c0" stroke-width="1.3"/>
<path d="M19,64 L34,74 L43,81 M84,63 L70,73 L60,81" fill="none" stroke="#d8a8c8" stroke-width="1.7" stroke-linejoin="round"/>
<path d="M21,76 L31,79 L35,89 L28,93 L21,87Z M82,76 L72,79 L68,89 L75,93 L82,87Z" fill="#5a3a58" stroke="#d8b4cc" stroke-width="1.2" opacity="0.85"/>
<ellipse cx="27" cy="86" rx="1.8" ry="2.6" fill="#2a0818"/><ellipse cx="76" cy="86" rx="1.8" ry="2.6" fill="#2a0818"/>
<ellipse cx="55" cy="72" rx="3" ry="3" fill="#a03a8a" filter="url(#blur05)"/>
</svg>
<polygon points="87.93,495.50 84.06,488.19 85.56,487.40 80.30,484.30 79.90,490.39 81.41,489.60 85.27,496.90" fill="#ee1111"/>
<svg x="100.0" y="433.1" width="44.6" height="84.89999999999998" viewBox="0 0 100 100" preserveAspectRatio="none">
<rect width="100" height="100" fill="#030001"/>
<g filter="url(#mot3)"><path d="M8,58 Q8,80 14,100 L88,100 Q94,80 92,58 Q70,52 50,54 Q30,52 8,58Z" fill="#4a0818"/><path d="M6,8 L30,6 L40,18 L20,20Z M94,8 L70,6 L60,18 L80,20Z" fill="#5a0a24"/></g>
<path d="M42,17 Q50,13 60,17 L65,31 Q60,40 50,40 L44,30Z" fill="#801030" opacity="0.8" filter="url(#blur1)"/>
<path d="M16,56 Q30,62 50,64 Q70,60 86,56 L86,80 Q70,76 50,84 Q30,76 16,80Z" fill="#4a0614" opacity="0.7" filter="url(#blur1)"/>
<g filter="url(#mot3)"><path d="M40,16 Q50,12 62,16 L68,32 Q62,42 50,42 L42,30Z" fill="#a81030"/><path d="M44,14 L56,14 L54,24 L46,24Z" fill="#c02040"/></g>
<g filter="url(#mot3)"><path d="M18,48 Q32,58 48,62 L46,70 Q28,68 18,60Z" fill="#9a1630"/><path d="M62,34 Q82,36 86,52 L84,66 Q70,64 62,54Z" fill="#8a1228"/><path d="M40,52 Q56,50 70,58 L66,72 Q50,70 40,64Z" fill="#7a1026"/></g>
<g filter="url(#mot3)"><path d="M14,76 Q30,74 50,82 Q70,74 88,76 L86,100 L16,100Z" fill="#8a1028"/></g>
<path d="M43,0 L59,0 L55,8 L52,13 L49,13 L46,8Z" fill="#d07098" filter="url(#blur05)"/>
<path d="M32,15 Q40,11 48,13 M52,13 Q60,11 68,15" fill="none" stroke="#8a2a52" stroke-width="2" filter="url(#blur05)"/>
<ellipse cx="50" cy="12" rx="2.2" ry="3" fill="#050002"/>
<path d="M18,36 Q30,30 48,33 Q58,35 58,40 Q56,48 46,50 Q38,52 34,60 Q26,62 20,56 Q16,46 18,36Z" fill="#aa2240" opacity="0.55" filter="url(#blur05)"/>
<g filter="url(#mot3)"><path d="M18,36 Q30,30 48,33 Q58,35 58,40 Q56,48 46,50 Q38,52 34,60 Q26,62 20,56 Q16,46 18,36Z" fill="#aa2240"/></g>
<path d="M20,56 Q16,24 38,18 Q52,15 66,18 Q89,24 87,56" fill="none" stroke="#e4b0c8" stroke-width="2.8" stroke-dasharray="1.8 4.6"/>
<ellipse cx="14" cy="6.5" rx="3.4" ry="2.2" fill="none" stroke="#d8a8c0" stroke-width="1.3"/>
<ellipse cx="86" cy="6.5" rx="3.4" ry="2.2" fill="none" stroke="#d8a8c0" stroke-width="1.3"/>
<path d="M19,64 L34,74 L43,81 M84,63 L70,73 L60,81" fill="none" stroke="#d8a8c8" stroke-width="1.7" stroke-linejoin="round"/>
<path d="M21,76 L31,79 L35,89 L28,93 L21,87Z M82,76 L72,79 L68,89 L75,93 L82,87Z" fill="#5a3a58" stroke="#d8b4cc" stroke-width="1.2" opacity="0.85"/>
<ellipse cx="27" cy="86" rx="1.8" ry="2.6" fill="#2a0818"/><ellipse cx="76" cy="86" rx="1.8" ry="2.6" fill="#2a0818"/>
<ellipse cx="63" cy="60" rx="3" ry="4" fill="#e8e040" filter="url(#blur05)"/>
</svg>
<svg x="148.0" y="433.1" width="46.85" height="84.89999999999998" viewBox="0 0 100 100" preserveAspectRatio="none">
<rect width="100" height="100" fill="#030001"/>
<g filter="url(#mot4)"><path d="M8,58 Q8,80 14,100 L88,100 Q94,80 92,58 Q70,52 50,54 Q30,52 8,58Z" fill="#4a0818"/><path d="M6,8 L30,6 L40,18 L20,20Z M94,8 L70,6 L60,18 L80,20Z" fill="#5a0a24"/></g>
<path d="M42,17 Q50,13 60,17 L65,31 Q60,40 50,40 L44,30Z" fill="#801030" opacity="0.8" filter="url(#blur1)"/>
<path d="M16,56 Q30,62 50,64 Q70,60 86,56 L86,80 Q70,76 50,84 Q30,76 16,80Z" fill="#4a0614" opacity="0.7" filter="url(#blur1)"/>
<g filter="url(#mot4)"><path d="M40,16 Q50,12 62,16 L68,32 Q62,42 50,42 L42,30Z" fill="#a81030"/><path d="M44,14 L56,14 L54,24 L46,24Z" fill="#c02040"/></g>
<g filter="url(#mot4)"><path d="M18,48 Q32,58 48,62 L46,70 Q28,68 18,60Z" fill="#9a1630"/><path d="M62,34 Q82,36 86,52 L84,66 Q70,64 62,54Z" fill="#8a1228"/><path d="M40,52 Q56,50 70,58 L66,72 Q50,70 40,64Z" fill="#7a1026"/></g>
<g filter="url(#mot4)"><path d="M14,76 Q30,74 50,82 Q70,74 88,76 L86,100 L16,100Z" fill="#8a1028"/></g>
<path d="M43,0 L59,0 L55,8 L52,13 L49,13 L46,8Z" fill="#d07098" filter="url(#blur05)"/>
<path d="M32,15 Q40,11 48,13 M52,13 Q60,11 68,15" fill="none" stroke="#8a2a52" stroke-width="2" filter="url(#blur05)"/>
<ellipse cx="50" cy="12" rx="2.2" ry="3" fill="#050002"/>
<path d="M18,36 Q30,30 48,33 Q58,35 58,40 Q56,48 46,50 Q38,52 34,60 Q26,62 20,56 Q16,46 18,36Z" fill="#b84036" opacity="0.55" filter="url(#blur05)"/>
<g filter="url(#mot4)"><path d="M18,36 Q30,30 48,33 Q58,35 58,40 Q56,48 46,50 Q38,52 34,60 Q26,62 20,56 Q16,46 18,36Z" fill="#b84036"/></g>
<path d="M20,56 Q16,24 38,18 Q52,15 66,18 Q89,24 87,56" fill="none" stroke="#e4b0c8" stroke-width="2.8" stroke-dasharray="1.8 4.6"/>
<ellipse cx="14" cy="6.5" rx="3.4" ry="2.2" fill="none" stroke="#d8a8c0" stroke-width="1.3"/>
<ellipse cx="86" cy="6.5" rx="3.4" ry="2.2" fill="none" stroke="#d8a8c0" stroke-width="1.3"/>
<path d="M19,64 L34,74 L43,81 M84,63 L70,73 L60,81" fill="none" stroke="#d8a8c8" stroke-width="1.7" stroke-linejoin="round"/>
<path d="M21,76 L31,79 L35,89 L28,93 L21,87Z M82,76 L72,79 L68,89 L75,93 L82,87Z" fill="#5a3a58" stroke="#d8b4cc" stroke-width="1.2" opacity="0.85"/>
<ellipse cx="27" cy="86" rx="1.8" ry="2.6" fill="#2a0818"/><ellipse cx="76" cy="86" rx="1.8" ry="2.6" fill="#2a0818"/>
<ellipse cx="61" cy="58" rx="4" ry="5.5" fill="#e8e050" filter="url(#blur05)"/>
<ellipse cx="61" cy="58" rx="2" ry="3" fill="#80b040" filter="url(#blur05)"/>
<ellipse cx="52" cy="77" rx="7" ry="3" fill="#f0f4e0" stroke="#e8d860" stroke-width="1.2"/>
</svg>
<svg x="198.2" y="433.1" width="46.4" height="84.89999999999998" viewBox="0 0 100 100" preserveAspectRatio="none">
<rect width="100" height="100" fill="#030001"/>
<g filter="url(#mot5)"><path d="M8,58 Q8,80 14,100 L88,100 Q94,80 92,58 Q70,52 50,54 Q30,52 8,58Z" fill="#4a0818"/><path d="M6,8 L30,6 L40,18 L20,20Z M94,8 L70,6 L60,18 L80,20Z" fill="#5a0a24"/></g>
<path d="M42,17 Q50,13 60,17 L65,31 Q60,40 50,40 L44,30Z" fill="#801030" opacity="0.8" filter="url(#blur1)"/>
<path d="M16,56 Q30,62 50,64 Q70,60 86,56 L86,80 Q70,76 50,84 Q30,76 16,80Z" fill="#4a0614" opacity="0.7" filter="url(#blur1)"/>
<g filter="url(#mot5)"><path d="M40,16 Q50,12 62,16 L68,32 Q62,42 50,42 L42,30Z" fill="#a81030"/><path d="M44,14 L56,14 L54,24 L46,24Z" fill="#c02040"/></g>
<g filter="url(#mot5)"><path d="M18,48 Q32,58 48,62 L46,70 Q28,68 18,60Z" fill="#9a1630"/><path d="M62,34 Q82,36 86,52 L84,66 Q70,64 62,54Z" fill="#8a1228"/><path d="M40,52 Q56,50 70,58 L66,72 Q50,70 40,64Z" fill="#7a1026"/></g>
<g filter="url(#mot5)"><path d="M14,76 Q30,74 50,82 Q70,74 88,76 L86,100 L16,100Z" fill="#8a1028"/></g>
<path d="M43,0 L59,0 L55,8 L52,13 L49,13 L46,8Z" fill="#d07098" filter="url(#blur05)"/>
<path d="M32,15 Q40,11 48,13 M52,13 Q60,11 68,15" fill="none" stroke="#8a2a52" stroke-width="2" filter="url(#blur05)"/>
<ellipse cx="50" cy="12" rx="2.2" ry="3" fill="#050002"/>
<path d="M18,36 Q30,30 48,33 Q58,35 58,40 Q56,48 46,50 Q38,52 34,60 Q26,62 20,56 Q16,46 18,36Z" fill="#d07a28" opacity="0.55" filter="url(#blur05)"/>
<g filter="url(#mot5)"><path d="M18,36 Q30,30 48,33 Q58,35 58,40 Q56,48 46,50 Q38,52 34,60 Q26,62 20,56 Q16,46 18,36Z" fill="#d07a28"/></g>
<path d="M20,56 Q16,24 38,18 Q52,15 66,18 Q89,24 87,56" fill="none" stroke="#e4b0c8" stroke-width="2.8" stroke-dasharray="1.8 4.6"/>
<ellipse cx="14" cy="6.5" rx="3.4" ry="2.2" fill="none" stroke="#d8a8c0" stroke-width="1.3"/>
<ellipse cx="86" cy="6.5" rx="3.4" ry="2.2" fill="none" stroke="#d8a8c0" stroke-width="1.3"/>
<path d="M19,64 L34,74 L43,81 M84,63 L70,73 L60,81" fill="none" stroke="#d8a8c8" stroke-width="1.7" stroke-linejoin="round"/>
<path d="M21,76 L31,79 L35,89 L28,93 L21,87Z M82,76 L72,79 L68,89 L75,93 L82,87Z" fill="#5a3a58" stroke="#d8b4cc" stroke-width="1.2" opacity="0.85"/>
<ellipse cx="27" cy="86" rx="1.8" ry="2.6" fill="#2a0818"/><ellipse cx="76" cy="86" rx="1.8" ry="2.6" fill="#2a0818"/>
<ellipse cx="59.5" cy="60" rx="9" ry="6.2" fill="#d8e048" filter="url(#blur05)"/>
<ellipse cx="59.5" cy="60" rx="5" ry="3.6" fill="#a04010" filter="url(#blur05)"/>
<ellipse cx="51" cy="79.5" rx="5" ry="2.6" fill="#f0f0e0" filter="url(#blur05)"/>
<ellipse cx="47.5" cy="73.5" rx="2.6" ry="1.8" fill="#e08020" filter="url(#blur05)"/>
<ellipse cx="75" cy="45" rx="6" ry="8" fill="#8a1a20" filter="url(#blur05)"/>
</svg>
<text x="103.5" y="543.8" font-size="9.0" fill="#222" textLength="38" lengthAdjust="spacingAndGlyphs">Patient 8</text>
<text x="36.8" y="555.2" font-size="7.6" text-anchor="middle" fill="#222" textLength="32.5" lengthAdjust="spacingAndGlyphs">Diagnosis</text>
<text x="36.8" y="563.9" font-size="7.6" text-anchor="middle" fill="#222" textLength="40" lengthAdjust="spacingAndGlyphs">11.5 months</text>
<text x="99.4" y="555.2" font-size="7.6" text-anchor="middle" fill="#222" textLength="36" lengthAdjust="spacingAndGlyphs">Pre-chemo</text>
<text x="98.5" y="563.9" font-size="7.6" text-anchor="middle" fill="#222" textLength="40" lengthAdjust="spacingAndGlyphs">13.0 months</text>
<text x="155.8" y="555.2" font-size="7.6" text-anchor="middle" fill="#222" textLength="49.9" lengthAdjust="spacingAndGlyphs">Post C1 chemo</text>
<text x="155.8" y="563.9" font-size="7.6" text-anchor="middle" fill="#222" textLength="40.9" lengthAdjust="spacingAndGlyphs">13.6 months</text>
<text x="215.3" y="555.2" font-size="7.6" text-anchor="middle" fill="#222" textLength="31.7" lengthAdjust="spacingAndGlyphs">Pre HSCT</text>
<text x="215.6" y="563.9" font-size="7.6" text-anchor="middle" fill="#222" textLength="41.3" lengthAdjust="spacingAndGlyphs">16.6 months</text>
<svg x="6.3" y="567.4" width="60.6" height="98.89999999999998" viewBox="0 0 100 100" preserveAspectRatio="none">
<rect width="100" height="100" fill="#030001"/>
<g filter="url(#mot6)"><path d="M16,20 Q50,14 86,20 L86,80 Q84,96 78,100 L24,100 Q18,92 16,80Z" fill="#3a0614"/><path d="M20,56 Q50,52 82,56 L86,80 Q84,96 78,100 L24,100 Q18,92 18,80Z" fill="#5a0a1e"/><path d="M56,16 Q74,18 80,30 L76,34 Q64,32 56,28Z" fill="#6a0e24"/></g>
<g filter="url(#mot6)"><path d="M56,40 Q70,38 78,46 L78,62 Q66,62 58,56Z" fill="#7a1028"/><path d="M40,70 Q50,68 60,70 L60,92 L40,92Z" fill="#6a0c22"/></g>
<path d="M9,8 Q15,4 23,8 L20,12 L18,24 L15,24 L14,12Z" fill="#5a2040" stroke="#d8a8c8" stroke-width="1.2"/>
<path d="M91,8 Q85,4 77,8 L80,12 L82,24 L85,24 L86,12Z" fill="#5a2040" stroke="#d8a8c8" stroke-width="1.2"/>
<path d="M20,10 Q34,6 46,11 M54,11 Q66,6 80,10" fill="none" stroke="#d0a0c0" stroke-width="1.6"/>
<path d="M21,14 Q20,34 24,52 M82,14 Q85,32 83,50" fill="none" stroke="#d0a0c0" stroke-width="2.2" stroke-dasharray="1.8 2.6"/>
<path d="M47,10 L53,10 L52.5,36 L47.5,36Z" fill="#d07090" filter="url(#blur05)"/>
<ellipse cx="50" cy="11" rx="3.5" ry="2.5" fill="none" stroke="#e0b0d0" stroke-width="1.2"/>
<g transform="translate(0,0)"><path d="M23,40 Q30,36 42,38 Q45,46 43,54 Q37,59 29,58 Q22,52 23,40Z" fill="#a01c48" filter="url(#blur05)"/></g>
<g transform="translate(0,0)"><g filter="url(#mot6)"><path d="M23,40 Q30,36 42,38 Q45,46 43,54 Q37,59 29,58 Q22,52 23,40Z" fill="#d04478"/></g></g>
<g transform="translate(0,0)"><path d="M58,42 Q70,39 78,44 Q78,52 70,55 Q60,54 58,48Z" fill="#8a1a40" filter="url(#blur05)"/></g>
<rect x="45.5" y="56" width="10" height="18" rx="3" fill="#e0a0b8" filter="url(#blur05)"/>
<path d="M46,60H55M46,64H55M46,68H55" stroke="#a86080" stroke-width="0.9"/>
<path d="M25,66 Q33,70 40,86 L40,91 L36,91 Q32,80 23,72Z" fill="#5a2a48" stroke="#dcb4d0" stroke-width="1.2"/>
<path d="M77,66 Q69,70 62,86 L62,91 L66,91 Q70,80 79,72Z" fill="#5a2a48" stroke="#dcb4d0" stroke-width="1.2"/>
<circle cx="22" cy="86" r="2.8" fill="none" stroke="#d8b0c8" stroke-width="1.2"/><circle cx="79" cy="86" r="2.8" fill="none" stroke="#d8b0c8" stroke-width="1.2"/>
<rect x="40" y="80.5" width="18" height="2.6" rx="1.3" fill="#f4f4c0" stroke="#d8c860" stroke-width="0.6"/>
<ellipse cx="50" cy="93" rx="3" ry="1.6" fill="#c02020" filter="url(#blur05)"/>
<path d="M45,33 Q50,30 55,33 L56,42 Q50,46 44,42Z" fill="#f0f0c8" stroke="#e0d040" stroke-width="1.4"/>
</svg>
<svg x="69.7" y="567.4" width="57" height="98.89999999999998" viewBox="0 0 100 100" preserveAspectRatio="none">
<rect width="100" height="100" fill="#030001"/>
<g filter="url(#mot7)"><path d="M16,20 Q50,14 86,20 L86,80 Q84,96 78,100 L24,100 Q18,92 16,80Z" fill="#3a0614"/><path d="M20,56 Q50,52 82,56 L86,80 Q84,96 78,100 L24,100 Q18,92 18,80Z" fill="#5a0a1e"/><path d="M56,16 Q74,18 80,30 L76,34 Q64,32 56,28Z" fill="#6a0e24"/></g>
<g filter="url(#mot7)"><path d="M56,40 Q70,38 78,46 L78,62 Q66,62 58,56Z" fill="#7a1028"/><path d="M40,70 Q50,68 60,70 L60,92 L40,92Z" fill="#6a0c22"/></g>
<path d="M9,8 Q15,4 23,8 L20,12 L18,24 L15,24 L14,12Z" fill="#5a2040" stroke="#d8a8c8" stroke-width="1.2"/>
<path d="M91,8 Q85,4 77,8 L80,12 L82,24 L85,24 L86,12Z" fill="#5a2040" stroke="#d8a8c8" stroke-width="1.2"/>
<path d="M20,10 Q34,6 46,11 M54,11 Q66,6 80,10" fill="none" stroke="#d0a0c0" stroke-width="1.6"/>
<path d="M21,14 Q20,34 24,52 M82,14 Q85,32 83,50" fill="none" stroke="#d0a0c0" stroke-width="2.2" stroke-dasharray="1.8 2.6"/>
<path d="M47,10 L53,10 L52.5,36 L47.5,36Z" fill="#d07090" filter="url(#blur05)"/>
<ellipse cx="50" cy="11" rx="3.5" ry="2.5" fill="none" stroke="#e0b0d0" stroke-width="1.2"/>
<g transform="translate(0,-2)"><path d="M23,40 Q30,36 42,38 Q45,46 43,54 Q37,59 29,58 Q22,52 23,40Z" fill="#a01c48" filter="url(#blur05)"/></g>
<g transform="translate(0,-2)"><g filter="url(#mot7)"><path d="M23,40 Q30,36 42,38 Q45,46 43,54 Q37,59 29,58 Q22,52 23,40Z" fill="#d04478"/></g></g>
<rect x="45.5" y="56" width="10" height="18" rx="3" fill="#e0a0b8" filter="url(#blur05)"/>
<path d="M46,60H55M46,64H55M46,68H55" stroke="#a86080" stroke-width="0.9"/>
<path d="M25,66 Q33,70 40,86 L40,91 L36,91 Q32,80 23,72Z" fill="#5a2a48" stroke="#dcb4d0" stroke-width="1.2"/>
<path d="M77,66 Q69,70 62,86 L62,91 L66,91 Q70,80 79,72Z" fill="#5a2a48" stroke="#dcb4d0" stroke-width="1.2"/>
<circle cx="22" cy="86" r="2.8" fill="none" stroke="#d8b0c8" stroke-width="1.2"/><circle cx="79" cy="86" r="2.8" fill="none" stroke="#d8b0c8" stroke-width="1.2"/>
<rect x="40" y="80.5" width="18" height="2.6" rx="1.3" fill="#f4f4c0" stroke="#d8c860" stroke-width="0.6"/>
<ellipse cx="50" cy="93" rx="3" ry="1.6" fill="#c02020" filter="url(#blur05)"/>
<path d="M47,20 Q52,16 60,19 Q70,18 73,26 Q74,34 72,36 Q78,40 75,46 Q70,50 64,46 L62,52 Q58,56 50,54 Q47,48 49,42 Q46,34 48,28Z" fill="#d8b030" filter="url(#blur1)"/>
<ellipse cx="52" cy="24" rx="4" ry="4" fill="#f0f0d0" filter="url(#blur05)"/>
<ellipse cx="64" cy="27" rx="6" ry="6" fill="#f0f0d0" filter="url(#blur05)"/>
<ellipse cx="54" cy="35" rx="5" ry="6" fill="#f0f0d0" filter="url(#blur05)"/>
<ellipse cx="69" cy="40" rx="4.5" ry="4" fill="#f0f0d0" filter="url(#blur05)"/>
<ellipse cx="56" cy="48" rx="6" ry="4" fill="#f0f0d0" filter="url(#blur05)"/>
<ellipse cx="69" cy="39" rx="2" ry="1.6" fill="#604010"/>
</svg>
<svg x="130.2" y="567.4" width="55.4" height="98.89999999999998" viewBox="0 0 100 100" preserveAspectRatio="none">
<rect width="100" height="100" fill="#030001"/>
<g filter="url(#mot8)"><path d="M16,20 Q50,14 86,20 L86,80 Q84,96 78,100 L24,100 Q18,92 16,80Z" fill="#3a0614"/><path d="M20,56 Q50,52 82,56 L86,80 Q84,96 78,100 L24,100 Q18,92 18,80Z" fill="#5a0a1e"/><path d="M56,16 Q74,18 80,30 L76,34 Q64,32 56,28Z" fill="#6a0e24"/></g>
<g filter="url(#mot8)"><path d="M56,40 Q70,38 78,46 L78,62 Q66,62 58,56Z" fill="#7a1028"/><path d="M40,70 Q50,68 60,70 L60,92 L40,92Z" fill="#6a0c22"/></g>
<path d="M9,8 Q15,4 23,8 L20,12 L18,24 L15,24 L14,12Z" fill="#5a2040" stroke="#d8a8c8" stroke-width="1.2"/>
<path d="M91,8 Q85,4 77,8 L80,12 L82,24 L85,24 L86,12Z" fill="#5a2040" stroke="#d8a8c8" stroke-width="1.2"/>
<path d="M20,10 Q34,6 46,11 M54,11 Q66,6 80,10" fill="none" stroke="#d0a0c0" stroke-width="1.6"/>
<path d="M21,14 Q20,34 24,52 M82,14 Q85,32 83,50" fill="none" stroke="#d0a0c0" stroke-width="2.2" stroke-dasharray="1.8 2.6"/>
<path d="M47,10 L53,10 L52.5,36 L47.5,36Z" fill="#d07090" filter="url(#blur05)"/>
<ellipse cx="50" cy="11" rx="3.5" ry="2.5" fill="none" stroke="#e0b0d0" stroke-width="1.2"/>
<g transform="translate(0,-6)"><path d="M23,40 Q30,36 42,38 Q45,46 43,54 Q37,59 29,58 Q22,52 23,40Z" fill="#a01c48" filter="url(#blur05)"/></g>
<g transform="translate(0,-6)"><g filter="url(#mot8)"><path d="M23,40 Q30,36 42,38 Q45,46 43,54 Q37,59 29,58 Q22,52 23,40Z" fill="#d04478"/></g></g>
<g transform="translate(0,-6)"><path d="M58,42 Q70,39 78,44 Q78,52 70,55 Q60,54 58,48Z" fill="#8a1a40" filter="url(#blur05)"/></g>
<path d="M58,18 Q72,18 80,28 L76,32 Q64,32 58,28Z" fill="#6a0c22" filter="url(#blur05)"/>
<rect x="45.5" y="56" width="10" height="18" rx="3" fill="#e0a0b8" filter="url(#blur05)"/>
<path d="M46,60H55M46,64H55M46,68H55" stroke="#a86080" stroke-width="0.9"/>
<path d="M25,66 Q33,70 40,86 L40,91 L36,91 Q32,80 23,72Z" fill="#5a2a48" stroke="#dcb4d0" stroke-width="1.2"/>
<path d="M77,66 Q69,70 62,86 L62,91 L66,91 Q70,80 79,72Z" fill="#5a2a48" stroke="#dcb4d0" stroke-width="1.2"/>
<circle cx="22" cy="86" r="2.8" fill="none" stroke="#d8b0c8" stroke-width="1.2"/><circle cx="79" cy="86" r="2.8" fill="none" stroke="#d8b0c8" stroke-width="1.2"/>
<rect x="40" y="80.5" width="18" height="2.6" rx="1.3" fill="#f4f4c0" stroke="#d8c860" stroke-width="0.6"/>
<ellipse cx="50" cy="93" rx="3" ry="1.6" fill="#c02020" filter="url(#blur05)"/>
<rect x="45.5" y="46" width="10" height="26" rx="2.5" fill="#f0c0c0" filter="url(#blur05)"/>
<path d="M46,50H55M46,54H55M46,58H55M46,62H55M46,66H55" stroke="#b07088" stroke-width="0.8"/>
<ellipse cx="40" cy="56" rx="3" ry="3" fill="#c05030" filter="url(#blur05)"/>
</svg>
<svg x="188.5" y="567.4" width="56.2" height="98.89999999999998" viewBox="0 0 100 100" preserveAspectRatio="none">
<rect width="100" height="100" fill="#030001"/>
<g filter="url(#mot9)"><path d="M16,20 Q50,14 86,20 L86,80 Q84,96 78,100 L24,100 Q18,92 16,80Z" fill="#3a0614"/><path d="M20,56 Q50,52 82,56 L86,80 Q84,96 78,100 L24,100 Q18,92 18,80Z" fill="#5a0a1e"/><path d="M56,16 Q74,18 80,30 L76,34 Q64,32 56,28Z" fill="#6a0e24"/></g>
<g filter="url(#mot9)"><path d="M56,40 Q70,38 78,46 L78,62 Q66,62 58,56Z" fill="#7a1028"/><path d="M40,70 Q50,68 60,70 L60,92 L40,92Z" fill="#6a0c22"/></g>
<path d="M9,8 Q15,4 23,8 L20,12 L18,24 L15,24 L14,12Z" fill="#5a2040" stroke="#d8a8c8" stroke-width="1.2"/>
<path d="M91,8 Q85,4 77,8 L80,12 L82,24 L85,24 L86,12Z" fill="#5a2040" stroke="#d8a8c8" stroke-width="1.2"/>
<path d="M20,10 Q34,6 46,11 M54,11 Q66,6 80,10" fill="none" stroke="#d0a0c0" stroke-width="1.6"/>
<path d="M21,14 Q20,34 24,52 M82,14 Q85,32 83,50" fill="none" stroke="#d0a0c0" stroke-width="2.2" stroke-dasharray="1.8 2.6"/>
<path d="M47,10 L53,10 L52.5,36 L47.5,36Z" fill="#d07090" filter="url(#blur05)"/>
<ellipse cx="50" cy="11" rx="3.5" ry="2.5" fill="none" stroke="#e0b0d0" stroke-width="1.2"/>
<g transform="translate(0,-3)"><path d="M23,40 Q30,36 42,38 Q45,46 43,54 Q37,59 29,58 Q22,52 23,40Z" fill="#a01c48" filter="url(#blur05)"/></g>
<g transform="translate(0,-3)"><g filter="url(#mot9)"><path d="M23,40 Q30,36 42,38 Q45,46 43,54 Q37,59 29,58 Q22,52 23,40Z" fill="#d04478"/></g></g>
<g transform="translate(0,-3)"><path d="M58,42 Q70,39 78,44 Q78,52 70,55 Q60,54 58,48Z" fill="#8a1a40" filter="url(#blur05)"/></g>
<path d="M58,18 Q72,18 80,28 L76,32 Q64,32 58,28Z" fill="#6a0c22" filter="url(#blur05)"/>
<rect x="45.5" y="56" width="10" height="18" rx="3" fill="#e0a0b8" filter="url(#blur05)"/>
<path d="M46,60H55M46,64H55M46,68H55" stroke="#a86080" stroke-width="0.9"/>
<path d="M25,66 Q33,70 40,86 L40,91 L36,91 Q32,80 23,72Z" fill="#5a2a48" stroke="#dcb4d0" stroke-width="1.2"/>
<path d="M77,66 Q69,70 62,86 L62,91 L66,91 Q70,80 79,72Z" fill="#5a2a48" stroke="#dcb4d0" stroke-width="1.2"/>
<circle cx="22" cy="86" r="2.8" fill="none" stroke="#d8b0c8" stroke-width="1.2"/><circle cx="79" cy="86" r="2.8" fill="none" stroke="#d8b0c8" stroke-width="1.2"/>
<rect x="40" y="80.5" width="18" height="2.6" rx="1.3" fill="#f4f4c0" stroke="#d8c860" stroke-width="0.6"/>
<ellipse cx="50" cy="93" rx="3" ry="1.6" fill="#c02020" filter="url(#blur05)"/>
<rect x="45.5" y="46" width="10" height="26" rx="2.5" fill="#f0c0c0" filter="url(#blur05)"/>
<path d="M46,50H55M46,54H55M46,58H55M46,62H55M46,66H55" stroke="#b07088" stroke-width="0.8"/>
<ellipse cx="40" cy="56" rx="3" ry="3" fill="#c05030" filter="url(#blur05)"/>
</svg>
<polygon points="52.20,622.07 44.26,614.32 45.87,612.67 38.00,611.00 39.86,618.83 41.47,617.18 49.40,624.93" fill="#ee1111"/>
<text x="261.9" y="441.4" font-size="10.4" font-weight="bold" fill="#000" stroke="#000" stroke-width="0.55">D</text>
<line x1="302.9" y1="473" x2="302.9" y2="590.6" stroke="#000" stroke-width="2.0"/>
<line x1="300.4" y1="590.00" x2="303.6" y2="590.00" stroke="#000" stroke-width="1.2"/>
<line x1="301.0" y1="584.14" x2="303.6" y2="584.14" stroke="#000" stroke-width="0.9"/>
<line x1="301.0" y1="580.72" x2="303.6" y2="580.72" stroke="#000" stroke-width="0.9"/>
<line x1="301.0" y1="578.29" x2="303.6" y2="578.29" stroke="#000" stroke-width="0.9"/>
<line x1="301.0" y1="576.41" x2="303.6" y2="576.41" stroke="#000" stroke-width="0.9"/>
<line x1="301.0" y1="574.86" x2="303.6" y2="574.86" stroke="#000" stroke-width="0.9"/>
<line x1="301.0" y1="573.56" x2="303.6" y2="573.56" stroke="#000" stroke-width="0.9"/>
<line x1="301.0" y1="572.43" x2="303.6" y2="572.43" stroke="#000" stroke-width="0.9"/>
<line x1="301.0" y1="571.44" x2="303.6" y2="571.44" stroke="#000" stroke-width="0.9"/>
<line x1="300.4" y1="570.55" x2="303.6" y2="570.55" stroke="#000" stroke-width="1.2"/>
<line x1="301.0" y1="564.69" x2="303.6" y2="564.69" stroke="#000" stroke-width="0.9"/>
<line x1="301.0" y1="561.27" x2="303.6" y2="561.27" stroke="#000" stroke-width="0.9"/>
<line x1="301.0" y1="558.84" x2="303.6" y2="558.84" stroke="#000" stroke-width="0.9"/>
<line x1="301.0" y1="556.96" x2="303.6" y2="556.96" stroke="#000" stroke-width="0.9"/>
<line x1="301.0" y1="555.41" x2="303.6" y2="555.41" stroke="#000" stroke-width="0.9"/>
<line x1="301.0" y1="554.11" x2="303.6" y2="554.11" stroke="#000" stroke-width="0.9"/>
<line x1="301.0" y1="552.98" x2="303.6" y2="552.98" stroke="#000" stroke-width="0.9"/>
<line x1="301.0" y1="551.99" x2="303.6" y2="551.99" stroke="#000" stroke-width="0.9"/>
<line x1="300.4" y1="551.10" x2="303.6" y2="551.10" stroke="#000" stroke-width="1.2"/>
<line x1="301.0" y1="545.24" x2="303.6" y2="545.24" stroke="#000" stroke-width="0.9"/>
<line x1="301.0" y1="541.82" x2="303.6" y2="541.82" stroke="#000" stroke-width="0.9"/>
<line x1="301.0" y1="539.39" x2="303.6" y2="539.39" stroke="#000" stroke-width="0.9"/>
<line x1="301.0" y1="537.51" x2="303.6" y2="537.51" stroke="#000" stroke-width="0.9"/>
<line x1="301.0" y1="535.96" x2="303.6" y2="535.96" stroke="#000" stroke-width="0.9"/>
<line x1="301.0" y1="534.66" x2="303.6" y2="534.66" stroke="#000" stroke-width="0.9"/>
<line x1="301.0" y1="533.53" x2="303.6" y2="533.53" stroke="#000" stroke-width="0.9"/>
<line x1="301.0" y1="532.54" x2="303.6" y2="532.54" stroke="#000" stroke-width="0.9"/>
<line x1="300.4" y1="531.65" x2="303.6" y2="531.65" stroke="#000" stroke-width="1.2"/>
<line x1="301.0" y1="525.79" x2="303.6" y2="525.79" stroke="#000" stroke-width="0.9"/>
<line x1="301.0" y1="522.37" x2="303.6" y2="522.37" stroke="#000" stroke-width="0.9"/>
<line x1="301.0" y1="519.94" x2="303.6" y2="519.94" stroke="#000" stroke-width="0.9"/>
<line x1="301.0" y1="518.06" x2="303.6" y2="518.06" stroke="#000" stroke-width="0.9"/>
<line x1="301.0" y1="516.51" x2="303.6" y2="516.51" stroke="#000" stroke-width="0.9"/>
<line x1="301.0" y1="515.21" x2="303.6" y2="515.21" stroke="#000" stroke-width="0.9"/>
<line x1="301.0" y1="514.08" x2="303.6" y2="514.08" stroke="#000" stroke-width="0.9"/>
<line x1="301.0" y1="513.09" x2="303.6" y2="513.09" stroke="#000" stroke-width="0.9"/>
<line x1="300.4" y1="512.20" x2="303.6" y2="512.20" stroke="#000" stroke-width="1.2"/>
<line x1="301.0" y1="506.34" x2="303.6" y2="506.34" stroke="#000" stroke-width="0.9"/>
<line x1="301.0" y1="502.92" x2="303.6" y2="502.92" stroke="#000" stroke-width="0.9"/>
<line x1="301.0" y1="500.49" x2="303.6" y2="500.49" stroke="#000" stroke-width="0.9"/>
<line x1="301.0" y1="498.61" x2="303.6" y2="498.61" stroke="#000" stroke-width="0.9"/>
<line x1="301.0" y1="497.06" x2="303.6" y2="497.06" stroke="#000" stroke-width="0.9"/>
<line x1="301.0" y1="495.76" x2="303.6" y2="495.76" stroke="#000" stroke-width="0.9"/>
<line x1="301.0" y1="494.63" x2="303.6" y2="494.63" stroke="#000" stroke-width="0.9"/>
<line x1="301.0" y1="493.64" x2="303.6" y2="493.64" stroke="#000" stroke-width="0.9"/>
<line x1="300.4" y1="492.75" x2="303.6" y2="492.75" stroke="#000" stroke-width="1.2"/>
<line x1="301.0" y1="486.89" x2="303.6" y2="486.89" stroke="#000" stroke-width="0.9"/>
<line x1="301.0" y1="483.47" x2="303.6" y2="483.47" stroke="#000" stroke-width="0.9"/>
<line x1="301.0" y1="481.04" x2="303.6" y2="481.04" stroke="#000" stroke-width="0.9"/>
<line x1="301.0" y1="479.16" x2="303.6" y2="479.16" stroke="#000" stroke-width="0.9"/>
<line x1="301.0" y1="477.61" x2="303.6" y2="477.61" stroke="#000" stroke-width="0.9"/>
<line x1="301.0" y1="476.31" x2="303.6" y2="476.31" stroke="#000" stroke-width="0.9"/>
<line x1="301.0" y1="475.18" x2="303.6" y2="475.18" stroke="#000" stroke-width="0.9"/>
<line x1="301.0" y1="474.19" x2="303.6" y2="474.19" stroke="#000" stroke-width="0.9"/>
<line x1="300.4" y1="473.30" x2="303.6" y2="473.30" stroke="#000" stroke-width="1.2"/>
<text x="297.6" y="592.7" font-size="7.6" text-anchor="end" fill="#222">0.01</text>
<text x="297.6" y="573.25" font-size="7.6" text-anchor="end" fill="#222">0.1</text>
<text x="297.6" y="553.8000000000001" font-size="7.6" text-anchor="end" fill="#222">1</text>
<text x="297.6" y="534.35" font-size="7.6" text-anchor="end" fill="#222">10</text>
<text x="297.6" y="514.9000000000001" font-size="7.6" text-anchor="end" fill="#222">100</text>
<text x="297.6" y="495.45" font-size="7.6" text-anchor="end" fill="#222">1000</text>
<text x="297.6" y="476.0" font-size="7.6" text-anchor="end" fill="#222">10000</text>
<line x1="302.9" y1="590" x2="494.8" y2="590" stroke="#000" stroke-width="1.5"/>
<line x1="303.40" y1="590" x2="303.40" y2="593.4" stroke="#000" stroke-width="1.2"/>
<text x="303.4" y="602.3" font-size="7.5" text-anchor="middle" fill="#222">0</text>
<line x1="324.62" y1="590" x2="324.62" y2="593.4" stroke="#000" stroke-width="1.2"/>
<text x="324.62" y="602.3" font-size="7.5" text-anchor="middle" fill="#222">2</text>
<line x1="345.84" y1="590" x2="345.84" y2="593.4" stroke="#000" stroke-width="1.2"/>
<text x="345.84" y="602.3" font-size="7.5" text-anchor="middle" fill="#222">4</text>
<line x1="367.06" y1="590" x2="367.06" y2="593.4" stroke="#000" stroke-width="1.2"/>
<text x="367.06" y="602.3" font-size="7.5" text-anchor="middle" fill="#222">6</text>
<line x1="388.28" y1="590" x2="388.28" y2="593.4" stroke="#000" stroke-width="1.2"/>
<text x="388.28" y="602.3" font-size="7.5" text-anchor="middle" fill="#222">8</text>
<line x1="409.50" y1="590" x2="409.50" y2="593.4" stroke="#000" stroke-width="1.2"/>
<text x="409.5" y="602.3" font-size="7.5" text-anchor="middle" fill="#222">10</text>
<line x1="430.72" y1="590" x2="430.72" y2="593.4" stroke="#000" stroke-width="1.2"/>
<text x="430.72" y="602.3" font-size="7.5" text-anchor="middle" fill="#222">12</text>
<line x1="451.94" y1="590" x2="451.94" y2="593.4" stroke="#000" stroke-width="1.2"/>
<text x="451.94" y="602.3" font-size="7.5" text-anchor="middle" fill="#222">14</text>
<line x1="473.16" y1="590" x2="473.16" y2="593.4" stroke="#000" stroke-width="1.2"/>
<text x="473.16" y="602.3" font-size="7.5" text-anchor="middle" fill="#222">16</text>
<line x1="494.38" y1="590" x2="494.38" y2="593.4" stroke="#000" stroke-width="1.2"/>
<text x="494.38" y="602.3" font-size="7.5" text-anchor="middle" fill="#222">18</text>
<text x="340.6" y="612.4" font-size="9.0" font-weight="bold" stroke="#000" stroke-width="0.28" fill="#000" textLength="116.8" lengthAdjust="spacingAndGlyphs">Months post first infusion</text>
<text x="0" y="0" font-size="9" font-weight="bold" fill="#000" stroke="#000" stroke-width="0.3" text-anchor="middle" transform="translate(270.6,532) rotate(-90)" textLength="62" lengthAdjust="spacingAndGlyphs">CAR T cells/µl</text>
<line x1="401.5" y1="473.10" x2="413.5" y2="473.10" stroke="#ff1a1a" stroke-width="1.4"/>
<text x="420.4" y="475.6" font-size="7.0" fill="#222" textLength="67" lengthAdjust="spacingAndGlyphs">High burden on trial</text>
<line x1="401.5" y1="482.18" x2="413.5" y2="482.18" stroke="#a01010" stroke-width="1.4"/>
<text x="420.4" y="484.68" font-size="7.0" fill="#222" textLength="93.4" lengthAdjust="spacingAndGlyphs">Patient 2 (CAR T lymphoma)</text>
<line x1="401.5" y1="491.26" x2="413.5" y2="491.26" stroke="#ff1a1a" stroke-width="1.4" stroke-dasharray="3 2.2"/>
<text x="420.4" y="493.76000000000005" font-size="7.0" fill="#222" textLength="68" lengthAdjust="spacingAndGlyphs">High burden off trial</text>
<line x1="401.5" y1="500.34" x2="413.5" y2="500.34" stroke="#1a33ff" stroke-width="1.4"/>
<text x="420.4" y="502.84000000000003" font-size="7.0" fill="#222" textLength="62" lengthAdjust="spacingAndGlyphs">Low burden on trial</text>
<line x1="401.5" y1="509.42" x2="413.5" y2="509.42" stroke="#66b4ff" stroke-width="1.4"/>
<text x="420.4" y="511.92" font-size="7.0" fill="#222" textLength="93.4" lengthAdjust="spacingAndGlyphs">Patient 8 (CAR T lymphoma)</text>
<line x1="401.5" y1="518.50" x2="413.5" y2="518.50" stroke="#1a33ff" stroke-width="1.4" stroke-dasharray="3 2.2"/>
<text x="420.4" y="521.0" font-size="7.0" fill="#222" textLength="67" lengthAdjust="spacingAndGlyphs">Low burden off trial</text>
<g clip-path="url(#dclip)" stroke-linejoin="round" fill="none">
<polyline points="304.5,590.0 305.5,565.0 307.0,552.0 309.0,560.0 311.0,572.0 313.0,585.0 315.0,590.0" stroke="#1a33ff" stroke-width="1.5" stroke-dasharray="2.6 1.8"/>
<polyline points="305.0,590.0 306.5,575.0 308.0,568.0 310.0,580.0 312.0,590.0" stroke="#1a33ff" stroke-width="1.5" stroke-dasharray="2.6 1.8"/>
<polyline points="340.0,568.0 352.0,566.0 367.7,566.2 375.0,568.0 401.9,570.0 434.9,557.3 436.2,551.9 438.0,553.5 440.0,553.0 443.1,583.8 457.5,589.6" stroke="#1a33ff" stroke-width="1.5" stroke-dasharray="2.6 1.8"/>
<polyline points="318.0,575.0 322.0,566.0 326.0,570.0 330.0,560.0 334.0,572.0 338.0,582.0" stroke="#1a33ff" stroke-width="1.4" stroke-dasharray="2.6 1.8"/>
<polyline points="304.6,589.0 304.6,574.6 306.9,553.8 310.4,549.2 311.5,563.0 315.6,581.5 318.5,573.5 321.3,565.4 324.2,574.6 327.7,560.8 328.8,551.5 331.7,578.0 336.9,566.5 340.4,578.0 341.5,560.8" stroke="#1a33ff" stroke-width="1.4"/>
<polyline points="313.8,566.5 317.0,570.0 320.8,588.5 324.8,566.5 327.0,575.0 329.5,589.0" stroke="#1a33ff" stroke-width="1.4"/>
<polyline points="323.0,563.0 331.2,559.6 338.0,578.0" stroke="#1a33ff" stroke-width="1.4"/>
<polyline points="305.0,560.0 308.0,545.0 311.0,556.0 314.0,575.0 318.0,583.0 322.0,590.0" stroke="#1a33ff" stroke-width="1.4"/>
<polyline points="339.9,554.4 342.0,573.2 343.7,556.3 345.1,580.6 347.0,556.9 348.8,573.5 350.9,560.4 352.5,575.8 354.8,561.5 356.6,578.7 358.7,553.4 360.5,576.9 361.7,554.1" stroke="#1a33ff" stroke-width="1.4"/>
<polyline points="341.8,564.2 344.7,581.8 348.1,559.7 351.0,576.6 353.6,558.1 357.1,580.3 359.9,561.9" stroke="#1a33ff" stroke-width="1.3"/>
<polyline points="304.1,589.0 306.2,532.8 308.0,537.0 311.0,542.0 313.7,543.8 316.4,528.7 317.8,541.0 320.5,541.0 325.3,545.1 329.4,540.4 340.0,544.8 344.6,544.2 350.4,536.7 355.0,540.8 358.0,548.0 363.7,569.6 364.8,537.9 370.0,540.0 382.7,544.8 397.2,541.4 410.7,549.9 426.8,540.5 431.5,578.2 479.4,558.8" stroke="#66b4ff" stroke-width="1.3"/>
<polyline points="305.8,544.6 308.0,560.0 311.5,544.6 316.2,565.4 318.0,575.0" stroke="#66b4ff" stroke-width="1.3"/>
<polyline points="340.5,552.0 343.1,530.0 346.4,504.2 347.1,492.8 350.5,491.4 352.2,481.3 355.2,492.1 357.9,505.6 358.5,515.0 359.9,506.9 361.9,500.2 364.6,496.2" stroke="#ff1a1a" stroke-width="1.5" stroke-dasharray="2.6 1.8"/>
<polyline points="304.0,590.0 306.0,545.0 309.0,540.0 312.0,552.0 315.0,572.0 318.0,590.0" stroke="#ff1a1a" stroke-width="1.5" stroke-dasharray="2.6 1.8"/>
<polyline points="320.2,574.6 321.3,590.0" stroke="#ff1a1a" stroke-width="1.5" stroke-dasharray="2.6 1.8"/>
<polyline points="324.0,566.0 328.0,558.0 331.0,575.0 334.0,590.0" stroke="#ff1a1a" stroke-width="1.5" stroke-dasharray="2.6 1.8"/>
<polyline points="343.0,572.0 352.0,579.0 362.0,584.0 372.3,587.0 373.5,580.0 380.0,578.0 390.0,580.0 397.2,580.2 401.9,560.0 406.0,556.0 415.4,554.6 438.3,557.3 458.8,564.8" stroke="#ff1a1a" stroke-width="1.5" stroke-dasharray="2.6 1.8"/>
<polyline points="306.0,552.0 310.0,545.0 314.0,550.0 318.0,565.0 322.0,578.0 326.0,590.0" stroke="#ff1a1a" stroke-width="1.5" stroke-dasharray="2.6 1.8"/>
<polyline points="345.0,560.0 350.0,575.0 354.0,566.0 358.0,584.0 362.0,572.0 366.0,588.0" stroke="#ff1a1a" stroke-width="1.4" stroke-dasharray="2.6 1.8"/>
<polyline points="304.0,590.0 305.4,531.1 307.4,508.3 308.3,519.0 311.4,498.8 319.5,519.7 323.1,488.1 326.4,545.0 330.0,560.0 334.0,566.0 338.0,565.0 340.0,562.7 345.0,550.0 351.0,538.5 363.1,543.1 378.0,548.8 384.4,554.0 394.2,559.8 400.0,554.6 404.6,547.2 411.6,564.3" stroke="#ff1a1a" stroke-width="1.4"/>
<polyline points="304.0,590.0 306.0,540.0 309.0,530.0 312.0,540.0 316.0,556.0 326.5,571.0 340.0,573.0 348.0,581.0 355.0,589.2 363.7,577.7 367.7,578.8 375.0,567.4 388.5,566.0 406.0,570.8 434.9,556.0" stroke="#ff1a1a" stroke-width="1.4"/>
<polyline points="304.0,585.0 307.0,548.0 310.0,550.0 313.8,557.3 318.0,562.0 323.0,563.0 326.5,571.0 340.0,580.0 355.4,588.5 358.0,590.0" stroke="#ff1a1a" stroke-width="1.4"/>
<polyline points="365.0,559.6 367.7,581.1 369.8,562.9 372.5,583.4 375.2,559.5 377.9,573.5 379.9,565.1 382.2,578.4 384.6,564.0 387.7,579.4 390.3,559.8 392.7,579.7 395.1,561.5" stroke="#ff1a1a" stroke-width="1.3"/>
<polyline points="384.4,554.0 384.6,549.0 385.0,580.0" stroke="#ff1a1a" stroke-width="1.3"/>
<polyline points="305.0,580.0 306.5,512.0 308.0,540.0 310.0,530.0 312.0,548.0" stroke="#ff1a1a" stroke-width="1.3"/>
<polyline points="322.0,575.0 325.0,590.0 328.0,572.0 332.0,585.0 336.0,570.0 340.0,586.0" stroke="#ff1a1a" stroke-width="1.3"/>
<polyline points="304.0,590.0 305.5,532.8 306.7,528.5 311.6,517.8 313.7,520.5 315.0,527.4 316.9,538.5 320.0,541.5 322.6,546.5 324.6,549.2 327.7,536.9 329.4,539.7 332.3,541.5 336.9,546.2 340.8,550.8 343.1,540.0 343.8,532.3 346.2,538.5 349.2,543.1 351.5,552.3 355.0,555.8 358.5,547.7 362.0,550.0 367.7,550.0 374.6,555.8 382.7,555.8 390.8,552.3 396.5,556.3 400.6,542.2 410.7,549.9 434.9,554.9 438.3,555.3 448.1,546.9 455.0,576.3 462.5,555.6 478.8,552.5 482.5,550.6 482.9,545.0 484.4,548.1 491.9,546.3 492.8,538.1" stroke="#a01010" stroke-width="1.5"/>
<polyline points="305.0,545.0 307.0,525.0 309.0,535.0 312.0,545.0" stroke="#a01010" stroke-width="1.3"/>
</g>
<rect x="0" y="0" width="520" height="1.4" fill="#000"/><rect x="0" y="0" width="1.15" height="673" fill="#000"/><rect x="518.6" y="0" width="1.4" height="673" fill="#000"/><rect x="0" y="671.3" width="520" height="1.7" fill="#000"/>
</svg></body></html>
